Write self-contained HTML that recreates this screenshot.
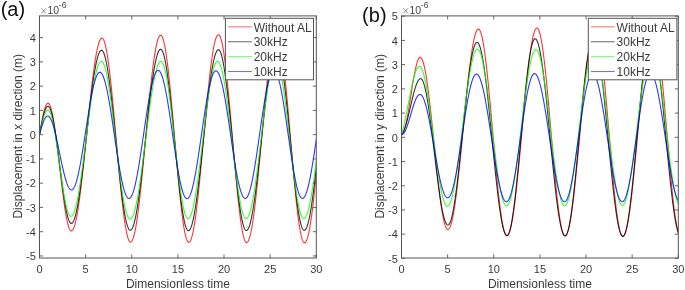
<!DOCTYPE html>
<html><head><meta charset="utf-8"><style>
html,body{margin:0;padding:0;background:#fff;}
svg{display:block;will-change:transform;}
text{font-family:"Liberation Sans",sans-serif;fill:#3a3a3a;}
.tk{font-size:11px;}
.lb{font-size:12px;}
.lg{font-size:12px;}
.ex{font-size:10.5px;fill:#444;}
.ex1{font-size:12.5px;fill:#555;}
.sup{font-size:8.5px;fill:#444;}
.pl{font-size:20px;fill:#111;}
</style></head><body>
<svg width="685" height="290" viewBox="0 0 685 290">
<rect width="685" height="290" fill="#fff"/>
<clipPath id="ca"><rect x="39.50" y="15.90" width="276.80" height="242.10"/></clipPath>
<g clip-path="url(#ca)" fill="none" stroke-width="1.1" stroke-opacity="0.8" stroke-linejoin="round">
<path d="M39.50,134.65 L39.96,131.96 L40.42,129.29 L40.88,126.66 L41.35,124.09 L41.81,121.59 L42.27,119.19 L42.73,116.91 L43.19,114.75 L43.65,112.73 L44.11,110.88 L44.57,109.20 L45.04,107.70 L45.50,106.40 L45.96,105.31 L46.42,104.43 L46.88,103.77 L47.34,103.34 L47.80,103.13 L48.27,103.16 L48.73,103.43 L49.19,103.94 L49.65,104.70 L50.11,105.70 L50.57,106.94 L51.03,108.40 L51.49,110.10 L51.96,112.01 L52.42,114.13 L52.88,116.46 L53.34,118.99 L53.80,121.70 L54.26,124.58 L54.72,127.63 L55.19,130.82 L55.65,134.16 L56.11,137.63 L56.57,141.21 L57.03,144.88 L57.49,148.65 L57.95,152.48 L58.41,156.37 L58.88,160.30 L59.34,164.26 L59.80,168.23 L60.26,172.19 L60.72,176.13 L61.18,180.04 L61.64,183.90 L62.11,187.69 L62.57,191.41 L63.03,195.03 L63.49,198.54 L63.95,201.93 L64.41,205.19 L64.87,208.30 L65.33,211.25 L65.80,214.03 L66.26,216.62 L66.72,219.03 L67.18,221.24 L67.64,223.24 L68.10,225.02 L68.56,226.58 L69.03,227.91 L69.49,229.00 L69.95,229.86 L70.41,230.47 L70.87,230.84 L71.33,230.96 L71.79,230.85 L72.25,230.53 L72.72,229.99 L73.18,229.24 L73.64,228.28 L74.10,227.10 L74.56,225.72 L75.02,224.14 L75.48,222.35 L75.95,220.37 L76.41,218.19 L76.87,215.83 L77.33,213.29 L77.79,210.57 L78.25,207.68 L78.71,204.63 L79.17,201.41 L79.64,198.05 L80.10,194.55 L80.56,190.92 L81.02,187.15 L81.48,183.27 L81.94,179.28 L82.40,175.19 L82.87,171.01 L83.33,166.75 L83.79,162.41 L84.25,158.02 L84.71,153.57 L85.17,149.07 L85.63,144.55 L86.09,140.00 L86.56,135.44 L87.02,130.88 L87.48,126.33 L87.94,121.79 L88.40,117.28 L88.86,112.82 L89.32,108.40 L89.79,104.04 L90.25,99.74 L90.71,95.53 L91.17,91.40 L91.63,87.37 L92.09,83.44 L92.55,79.63 L93.01,75.94 L93.48,72.39 L93.94,68.97 L94.40,65.70 L94.86,62.58 L95.32,59.62 L95.78,56.84 L96.24,54.22 L96.71,51.79 L97.17,49.54 L97.63,47.48 L98.09,45.61 L98.55,43.95 L99.01,42.48 L99.47,41.23 L99.93,40.18 L100.40,39.34 L100.86,38.72 L101.32,38.31 L101.78,38.11 L102.24,38.14 L102.70,38.43 L103.16,38.98 L103.63,39.79 L104.09,40.85 L104.55,42.17 L105.01,43.75 L105.47,45.57 L105.93,47.63 L106.39,49.93 L106.85,52.46 L107.32,55.22 L107.78,58.19 L108.24,61.37 L108.70,64.76 L109.16,68.34 L109.62,72.10 L110.08,76.04 L110.55,80.15 L111.01,84.40 L111.47,88.80 L111.93,93.34 L112.39,97.99 L112.85,102.75 L113.31,107.60 L113.77,112.54 L114.24,117.55 L114.70,122.62 L115.16,127.73 L115.62,132.88 L116.08,138.04 L116.54,143.21 L117.00,148.37 L117.47,153.51 L117.93,158.61 L118.39,163.67 L118.85,168.67 L119.31,173.59 L119.77,178.43 L120.23,183.17 L120.69,187.80 L121.16,192.30 L121.62,196.68 L122.08,200.90 L122.54,204.97 L123.00,208.88 L123.46,212.61 L123.92,216.15 L124.39,219.50 L124.85,222.64 L125.31,225.57 L125.77,228.28 L126.23,230.77 L126.69,233.02 L127.15,235.03 L127.61,236.80 L128.08,238.33 L128.54,239.60 L129.00,240.61 L129.46,241.37 L129.92,241.87 L130.38,242.10 L130.84,242.08 L131.31,241.81 L131.77,241.31 L132.23,240.57 L132.69,239.59 L133.15,238.38 L133.61,236.93 L134.07,235.26 L134.53,233.36 L135.00,231.25 L135.46,228.92 L135.92,226.38 L136.38,223.63 L136.84,220.69 L137.30,217.56 L137.76,214.24 L138.23,210.75 L138.69,207.09 L139.15,203.28 L139.61,199.31 L140.07,195.20 L140.53,190.96 L140.99,186.60 L141.45,182.13 L141.92,177.56 L142.38,172.89 L142.84,168.15 L143.30,163.34 L143.76,158.47 L144.22,153.56 L144.68,148.61 L145.15,143.64 L145.61,138.65 L146.07,133.67 L146.53,128.70 L146.99,123.75 L147.45,118.83 L147.91,113.97 L148.37,109.15 L148.84,104.41 L149.30,99.75 L149.76,95.18 L150.22,90.70 L150.68,86.34 L151.14,82.10 L151.60,78.00 L152.07,74.03 L152.53,70.21 L152.99,66.55 L153.45,63.06 L153.91,59.75 L154.37,56.62 L154.83,53.67 L155.29,50.93 L155.76,48.39 L156.22,46.06 L156.68,43.94 L157.14,42.04 L157.60,40.37 L158.06,38.93 L158.52,37.72 L158.99,36.74 L159.45,35.99 L159.91,35.49 L160.37,35.23 L160.83,35.21 L161.29,35.45 L161.75,35.97 L162.21,36.77 L162.68,37.83 L163.14,39.16 L163.60,40.76 L164.06,42.62 L164.52,44.73 L164.98,47.09 L165.44,49.69 L165.91,52.53 L166.37,55.60 L166.83,58.89 L167.29,62.39 L167.75,66.09 L168.21,69.99 L168.67,74.07 L169.13,78.32 L169.60,82.73 L170.06,87.29 L170.52,91.98 L170.98,96.80 L171.44,101.73 L171.90,106.76 L172.36,111.88 L172.83,117.06 L173.29,122.31 L173.75,127.59 L174.21,132.91 L174.67,138.24 L175.13,143.57 L175.59,148.89 L176.05,154.19 L176.52,159.44 L176.98,164.64 L177.44,169.77 L177.90,174.82 L178.36,179.77 L178.82,184.61 L179.28,189.33 L179.75,193.92 L180.21,198.36 L180.67,202.64 L181.13,206.76 L181.59,210.69 L182.05,214.43 L182.51,217.98 L182.97,221.31 L183.44,224.42 L183.90,227.31 L184.36,229.96 L184.82,232.37 L185.28,234.53 L185.74,236.44 L186.20,238.09 L186.67,239.47 L187.13,240.59 L187.59,241.44 L188.05,242.01 L188.51,242.31 L188.97,242.34 L189.43,242.12 L189.89,241.65 L190.36,240.93 L190.82,239.97 L191.28,238.76 L191.74,237.31 L192.20,235.63 L192.66,233.72 L193.12,231.57 L193.59,229.21 L194.05,226.62 L194.51,223.83 L194.97,220.83 L195.43,217.63 L195.89,214.25 L196.35,210.68 L196.81,206.95 L197.28,203.04 L197.74,198.99 L198.20,194.78 L198.66,190.45 L199.12,185.99 L199.58,181.41 L200.04,176.74 L200.51,171.97 L200.97,167.12 L201.43,162.20 L201.89,157.23 L202.35,152.21 L202.81,147.16 L203.27,142.09 L203.73,137.01 L204.20,131.93 L204.66,126.87 L205.12,121.84 L205.58,116.84 L206.04,111.90 L206.50,107.03 L206.96,102.22 L207.43,97.51 L207.89,92.89 L208.35,88.39 L208.81,84.00 L209.27,79.74 L209.73,75.62 L210.19,71.66 L210.65,67.85 L211.12,64.22 L211.58,60.76 L212.04,57.49 L212.50,54.41 L212.96,51.53 L213.42,48.86 L213.88,46.41 L214.35,44.18 L214.81,42.17 L215.27,40.39 L215.73,38.85 L216.19,37.55 L216.65,36.49 L217.11,35.67 L217.57,35.10 L218.04,34.78 L218.50,34.70 L218.96,34.90 L219.42,35.36 L219.88,36.10 L220.34,37.11 L220.80,38.38 L221.27,39.92 L221.73,41.72 L222.19,43.77 L222.65,46.08 L223.11,48.63 L223.57,51.41 L224.03,54.43 L224.49,57.66 L224.96,61.11 L225.42,64.77 L225.88,68.62 L226.34,72.65 L226.80,76.86 L227.26,81.23 L227.72,85.75 L228.19,90.42 L228.65,95.20 L229.11,100.11 L229.57,105.11 L230.03,110.20 L230.49,115.37 L230.95,120.60 L231.41,125.88 L231.88,131.19 L232.34,136.52 L232.80,141.85 L233.26,147.18 L233.72,152.49 L234.18,157.75 L234.64,162.97 L235.11,168.13 L235.57,173.20 L236.03,178.19 L236.49,183.07 L236.95,187.83 L237.41,192.47 L237.87,196.96 L238.33,201.30 L238.80,205.47 L239.26,209.47 L239.72,213.28 L240.18,216.90 L240.64,220.31 L241.10,223.50 L241.56,226.47 L242.03,229.21 L242.49,231.71 L242.95,233.96 L243.41,235.97 L243.87,237.72 L244.33,239.20 L244.79,240.42 L245.25,241.38 L245.72,242.06 L246.18,242.47 L246.64,242.61 L247.10,242.49 L247.56,242.12 L248.02,241.52 L248.48,240.67 L248.95,239.59 L249.41,238.27 L249.87,236.71 L250.33,234.93 L250.79,232.93 L251.25,230.70 L251.71,228.26 L252.17,225.61 L252.64,222.75 L253.10,219.70 L253.56,216.46 L254.02,213.04 L254.48,209.45 L254.94,205.69 L255.40,201.77 L255.87,197.71 L256.33,193.50 L256.79,189.17 L257.25,184.72 L257.71,180.17 L258.17,175.52 L258.63,170.78 L259.09,165.96 L259.56,161.08 L260.02,156.15 L260.48,151.18 L260.94,146.18 L261.40,141.16 L261.86,136.14 L262.32,131.12 L262.79,126.12 L263.25,121.15 L263.71,116.22 L264.17,111.34 L264.63,106.53 L265.09,101.79 L265.55,97.14 L266.01,92.58 L266.48,88.13 L266.94,83.80 L267.40,79.60 L267.86,75.54 L268.32,71.62 L268.78,67.86 L269.24,64.26 L269.71,60.84 L270.17,57.60 L270.63,54.55 L271.09,51.70 L271.55,49.05 L272.01,46.61 L272.47,44.38 L272.93,42.37 L273.40,40.59 L273.86,39.04 L274.32,37.72 L274.78,36.64 L275.24,35.79 L275.70,35.18 L276.16,34.82 L276.63,34.70 L277.09,34.84 L277.55,35.26 L278.01,35.96 L278.47,36.94 L278.93,38.20 L279.39,39.73 L279.85,41.52 L280.32,43.58 L280.78,45.90 L281.24,48.46 L281.70,51.27 L282.16,54.32 L282.62,57.60 L283.08,61.09 L283.55,64.80 L284.01,68.71 L284.47,72.80 L284.93,77.08 L285.39,81.52 L285.85,86.11 L286.31,90.85 L286.77,95.72 L287.24,100.70 L287.70,105.79 L288.16,110.97 L288.62,116.22 L289.08,121.53 L289.54,126.89 L290.00,132.28 L290.47,137.69 L290.93,143.10 L291.39,148.50 L291.85,153.88 L292.31,159.21 L292.77,164.49 L293.23,169.70 L293.69,174.82 L294.16,179.85 L294.62,184.77 L295.08,189.56 L295.54,194.21 L296.00,198.72 L296.46,203.06 L296.92,207.23 L297.39,211.21 L297.85,215.00 L298.31,218.58 L298.77,221.94 L299.23,225.08 L299.69,227.99 L300.15,230.66 L300.61,233.07 L301.08,235.24 L301.54,237.14 L302.00,238.77 L302.46,240.14 L302.92,241.23 L303.38,242.04 L303.84,242.57 L304.31,242.83 L304.77,242.81 L305.23,242.54 L305.69,242.04 L306.15,241.31 L306.61,240.33 L307.07,239.13 L307.53,237.69 L308.00,236.03 L308.46,234.15 L308.92,232.04 L309.38,229.73 L309.84,227.20 L310.30,224.47 L310.76,221.54 L311.23,218.43 L311.69,215.13 L312.15,211.66 L312.61,208.02 L313.07,204.22 L313.53,200.27 L313.99,196.18 L314.45,191.96 L314.92,187.62 L315.38,183.16 L315.84,178.60 L316.30,173.95" stroke="#ff0000"/>
<path d="M39.50,134.65 L39.96,132.23 L40.42,129.83 L40.88,127.46 L41.35,125.14 L41.81,122.90 L42.27,120.74 L42.73,118.68 L43.19,116.74 L43.65,114.92 L44.11,113.26 L44.57,111.74 L45.04,110.40 L45.50,109.23 L45.96,108.24 L46.42,107.45 L46.88,106.86 L47.34,106.47 L47.80,106.28 L48.27,106.31 L48.73,106.55 L49.19,107.03 L49.65,107.72 L50.11,108.64 L50.57,109.77 L51.03,111.12 L51.49,112.67 L51.96,114.42 L52.42,116.37 L52.88,118.50 L53.34,120.81 L53.80,123.30 L54.26,125.94 L54.72,128.73 L55.19,131.66 L55.65,134.72 L56.11,137.90 L56.57,141.18 L57.03,144.55 L57.49,148.00 L57.95,151.51 L58.41,155.08 L58.88,158.68 L59.34,162.31 L59.80,165.94 L60.26,169.58 L60.72,173.19 L61.18,176.77 L61.64,180.31 L62.11,183.79 L62.57,187.19 L63.03,190.51 L63.49,193.73 L63.95,196.83 L64.41,199.82 L64.87,202.67 L65.33,205.37 L65.80,207.92 L66.26,210.30 L66.72,212.51 L67.18,214.53 L67.64,216.36 L68.10,217.99 L68.56,219.42 L69.03,220.64 L69.49,221.64 L69.95,222.43 L70.41,222.99 L70.87,223.33 L71.33,223.44 L71.79,223.34 L72.25,223.04 L72.72,222.54 L73.18,221.85 L73.64,220.96 L74.10,219.87 L74.56,218.59 L75.02,217.12 L75.48,215.47 L75.95,213.64 L76.41,211.63 L76.87,209.45 L77.33,207.10 L77.79,204.58 L78.25,201.91 L78.71,199.10 L79.17,196.13 L79.64,193.03 L80.10,189.80 L80.56,186.45 L81.02,182.99 L81.48,179.41 L81.94,175.74 L82.40,171.98 L82.87,168.14 L83.33,164.23 L83.79,160.25 L84.25,156.22 L84.71,152.15 L85.17,148.03 L85.63,143.90 L86.09,139.75 L86.56,135.59 L87.02,131.43 L87.48,127.28 L87.94,123.16 L88.40,119.07 L88.86,115.02 L89.32,111.02 L89.79,107.08 L90.25,103.21 L90.71,99.42 L91.17,95.71 L91.63,92.10 L92.09,88.59 L92.55,85.19 L93.01,81.91 L93.48,78.76 L93.94,75.74 L94.40,72.86 L94.86,70.13 L95.32,67.56 L95.78,65.14 L96.24,62.89 L96.71,60.81 L97.17,58.91 L97.63,57.18 L98.09,55.64 L98.55,54.29 L99.01,53.12 L99.47,52.15 L99.93,51.38 L100.40,50.80 L100.86,50.42 L101.32,50.24 L101.78,50.27 L102.24,50.52 L102.70,51.00 L103.16,51.70 L103.63,52.63 L104.09,53.78 L104.55,55.15 L105.01,56.73 L105.47,58.53 L105.93,60.53 L106.39,62.74 L106.85,65.14 L107.32,67.74 L107.78,70.51 L108.24,73.46 L108.70,76.59 L109.16,79.87 L109.62,83.31 L110.08,86.89 L110.55,90.60 L111.01,94.44 L111.47,98.40 L111.93,102.47 L112.39,106.63 L112.85,110.87 L113.31,115.19 L113.77,119.57 L114.24,124.01 L114.70,128.48 L115.16,132.99 L115.62,137.51 L116.08,142.04 L116.54,146.57 L117.00,151.08 L117.47,155.56 L117.93,160.01 L118.39,164.40 L118.85,168.73 L119.31,172.99 L119.77,177.17 L120.23,181.25 L120.69,185.23 L121.16,189.10 L121.62,192.84 L122.08,196.45 L122.54,199.91 L123.00,203.23 L123.46,206.38 L123.92,209.37 L124.39,212.18 L124.85,214.81 L125.31,217.25 L125.77,219.50 L126.23,221.54 L126.69,223.38 L127.15,225.01 L127.61,226.42 L128.08,227.62 L128.54,228.59 L129.00,229.34 L129.46,229.87 L129.92,230.16 L130.38,230.23 L130.84,230.09 L131.31,229.74 L131.77,229.18 L132.23,228.42 L132.69,227.46 L133.15,226.30 L133.61,224.94 L134.07,223.39 L134.53,221.64 L135.00,219.71 L135.46,217.60 L135.92,215.31 L136.38,212.85 L136.84,210.22 L137.30,207.43 L137.76,204.49 L138.23,201.40 L138.69,198.17 L139.15,194.80 L139.61,191.31 L140.07,187.71 L140.53,183.99 L140.99,180.17 L141.45,176.26 L141.92,172.27 L142.38,168.20 L142.84,164.07 L143.30,159.88 L143.76,155.65 L144.22,151.38 L144.68,147.08 L145.15,142.77 L145.61,138.45 L146.07,134.13 L146.53,129.83 L146.99,125.55 L147.45,121.30 L147.91,117.09 L148.37,112.93 L148.84,108.84 L149.30,104.82 L149.76,100.87 L150.22,97.02 L150.68,93.26 L151.14,89.61 L151.60,86.07 L152.07,82.65 L152.53,79.37 L152.99,76.22 L153.45,73.22 L153.91,70.36 L154.37,67.67 L154.83,65.14 L155.29,62.78 L155.76,60.60 L156.22,58.59 L156.68,56.78 L157.14,55.15 L157.60,53.71 L158.06,52.47 L158.52,51.43 L158.99,50.59 L159.45,49.95 L159.91,49.52 L160.37,49.29 L160.83,49.27 L161.29,49.50 L161.75,49.97 L162.21,50.68 L162.68,51.64 L163.14,52.83 L163.60,54.27 L164.06,55.94 L164.52,57.83 L164.98,59.95 L165.44,62.29 L165.91,64.84 L166.37,67.60 L166.83,70.55 L167.29,73.69 L167.75,77.01 L168.21,80.51 L168.67,84.16 L169.13,87.97 L169.60,91.92 L170.06,95.99 L170.52,100.19 L170.98,104.50 L171.44,108.91 L171.90,113.39 L172.36,117.96 L172.83,122.58 L173.29,127.25 L173.75,131.95 L174.21,136.67 L174.67,141.41 L175.13,146.14 L175.59,150.85 L176.05,155.54 L176.52,160.18 L176.98,164.76 L177.44,169.28 L177.90,173.72 L178.36,178.07 L178.82,182.31 L179.28,186.44 L179.75,190.44 L180.21,194.31 L180.67,198.03 L181.13,201.59 L181.59,204.98 L182.05,208.19 L182.51,211.22 L182.97,214.05 L183.44,216.69 L183.90,219.11 L184.36,221.32 L184.82,223.31 L185.28,225.07 L185.74,226.60 L186.20,227.89 L186.67,228.94 L187.13,229.75 L187.59,230.32 L188.05,230.64 L188.51,230.72 L188.97,230.57 L189.43,230.21 L189.89,229.64 L190.36,228.86 L190.82,227.88 L191.28,226.69 L191.74,225.30 L192.20,223.71 L192.66,221.92 L193.12,219.94 L193.59,217.78 L194.05,215.44 L194.51,212.92 L194.97,210.23 L195.43,207.38 L195.89,204.37 L196.35,201.21 L196.81,197.91 L197.28,194.47 L197.74,190.91 L198.20,187.23 L198.66,183.44 L199.12,179.55 L199.58,175.56 L200.04,171.50 L200.51,167.36 L200.97,163.16 L201.43,158.90 L201.89,154.60 L202.35,150.27 L202.81,145.91 L203.27,141.54 L203.73,137.17 L204.20,132.80 L204.66,128.45 L205.12,124.13 L205.58,119.85 L206.04,115.61 L206.50,111.44 L206.96,107.33 L207.43,103.29 L207.89,99.34 L208.35,95.49 L208.81,91.74 L209.27,88.11 L209.73,84.60 L210.19,81.21 L210.65,77.97 L211.12,74.87 L211.58,71.92 L212.04,69.13 L212.50,66.51 L212.96,64.06 L213.42,61.79 L213.88,59.70 L214.35,57.80 L214.81,56.09 L215.27,54.58 L215.73,53.27 L216.19,52.16 L216.65,51.26 L217.11,50.57 L217.57,50.08 L218.04,49.81 L218.50,49.74 L218.96,49.91 L219.42,50.33 L219.88,50.98 L220.34,51.87 L220.80,53.00 L221.27,54.37 L221.73,55.96 L222.19,57.78 L222.65,59.82 L223.11,62.08 L223.57,64.55 L224.03,67.22 L224.49,70.09 L224.96,73.14 L225.42,76.37 L225.88,79.78 L226.34,83.35 L226.80,87.07 L227.26,90.93 L227.72,94.92 L228.19,99.04 L228.65,103.27 L229.11,107.59 L229.57,112.00 L230.03,116.49 L230.49,121.04 L230.95,125.65 L231.41,130.29 L231.88,134.96 L232.34,139.64 L232.80,144.32 L233.26,149.00 L233.72,153.64 L234.18,158.26 L234.64,162.82 L235.11,167.32 L235.57,171.75 L236.03,176.09 L236.49,180.34 L236.95,184.48 L237.41,188.50 L237.87,192.39 L238.33,196.14 L238.80,199.74 L239.26,203.18 L239.72,206.44 L240.18,209.54 L240.64,212.44 L241.10,215.15 L241.56,217.66 L242.03,219.96 L242.49,222.04 L242.95,223.91 L243.41,225.55 L243.87,226.96 L244.33,228.14 L244.79,229.08 L245.25,229.78 L245.72,230.24 L246.18,230.46 L246.64,230.44 L247.10,230.21 L247.56,229.77 L248.02,229.12 L248.48,228.27 L248.95,227.21 L249.41,225.95 L249.87,224.49 L250.33,222.83 L250.79,220.98 L251.25,218.94 L251.71,216.72 L252.17,214.33 L252.64,211.76 L253.10,209.02 L253.56,206.13 L254.02,203.08 L254.48,199.88 L254.94,196.55 L255.40,193.08 L255.87,189.50 L256.33,185.79 L256.79,181.99 L257.25,178.08 L257.71,174.09 L258.17,170.01 L258.63,165.87 L259.09,161.67 L259.56,157.42 L260.02,153.13 L260.48,148.80 L260.94,144.46 L261.40,140.11 L261.86,135.76 L262.32,131.41 L262.79,127.09 L263.25,122.80 L263.71,118.55 L264.17,114.35 L264.63,110.20 L265.09,106.13 L265.55,102.14 L266.01,98.23 L266.48,94.42 L266.94,90.72 L267.40,87.13 L267.86,83.67 L268.32,80.33 L268.78,77.14 L269.24,74.09 L269.71,71.19 L270.17,68.46 L270.63,65.89 L271.09,63.49 L271.55,61.27 L272.01,59.24 L272.47,57.39 L272.93,55.73 L273.40,54.27 L273.86,53.01 L274.32,51.95 L274.78,51.10 L275.24,50.45 L275.70,50.01 L276.16,49.78 L276.63,49.76 L277.09,49.98 L277.55,50.45 L278.01,51.16 L278.47,52.11 L278.93,53.30 L279.39,54.73 L279.85,56.40 L280.32,58.28 L280.78,60.40 L281.24,62.73 L281.70,65.27 L282.16,68.01 L282.62,70.95 L283.08,74.08 L283.55,77.39 L284.01,80.86 L284.47,84.51 L284.93,88.30 L285.39,92.23 L285.85,96.29 L286.31,100.47 L286.77,104.76 L287.24,109.15 L287.70,113.62 L288.16,118.17 L288.62,122.77 L289.08,127.42 L289.54,132.10 L290.00,136.81 L290.47,141.52 L290.93,146.23 L291.39,150.93 L291.85,155.59 L292.31,160.22 L292.77,164.79 L293.23,169.29 L293.69,173.71 L294.16,178.04 L294.62,182.27 L295.08,186.38 L295.54,190.36 L296.00,194.21 L296.46,197.91 L296.92,201.46 L297.39,204.84 L297.85,208.04 L298.31,211.05 L298.77,213.88 L299.23,216.50 L299.69,218.91 L300.15,221.11 L300.61,223.09 L301.08,224.85 L301.54,226.37 L302.00,227.66 L302.46,228.71 L302.92,229.51 L303.38,230.08 L303.84,230.40 L304.31,230.47 L304.77,230.33 L305.23,229.97 L305.69,229.40 L306.15,228.63 L306.61,227.66 L307.07,226.47 L307.53,225.09 L308.00,223.51 L308.46,221.74 L308.92,219.78 L309.38,217.63 L309.84,215.31 L310.30,212.81 L310.76,210.14 L311.23,207.30 L311.69,204.32 L312.15,201.18 L312.61,197.90 L313.07,194.49 L313.53,190.95 L313.99,187.29 L314.45,183.52 L314.92,179.65 L315.38,175.69 L315.84,171.65 L316.30,167.54" stroke="#000000"/>
<path d="M39.50,134.65 L39.96,132.51 L40.42,130.40 L40.88,128.31 L41.35,126.27 L41.81,124.29 L42.27,122.40 L42.73,120.60 L43.19,118.90 L43.65,117.32 L44.11,115.88 L44.57,114.58 L45.04,113.43 L45.50,112.44 L45.96,111.63 L46.42,110.98 L46.88,110.52 L47.34,110.24 L47.80,110.15 L48.27,110.25 L48.73,110.57 L49.19,111.09 L49.65,111.82 L50.11,112.75 L50.57,113.88 L51.03,115.20 L51.49,116.72 L51.96,118.42 L52.42,120.29 L52.88,122.34 L53.34,124.55 L53.80,126.91 L54.26,129.41 L54.72,132.05 L55.19,134.81 L55.65,137.68 L56.11,140.66 L56.57,143.72 L57.03,146.86 L57.49,150.06 L57.95,153.32 L58.41,156.62 L58.88,159.94 L59.34,163.28 L59.80,166.61 L60.26,169.94 L60.72,173.23 L61.18,176.49 L61.64,179.69 L62.11,182.84 L62.57,185.90 L63.03,188.87 L63.49,191.74 L63.95,194.51 L64.41,197.14 L64.87,199.65 L65.33,202.01 L65.80,204.21 L66.26,206.26 L66.72,208.14 L67.18,209.83 L67.64,211.35 L68.10,212.68 L68.56,213.81 L69.03,214.74 L69.49,215.47 L69.95,215.99 L70.41,216.30 L70.87,216.41 L71.33,216.32 L71.79,216.06 L72.25,215.62 L72.72,215.01 L73.18,214.22 L73.64,213.27 L74.10,212.14 L74.56,210.85 L75.02,209.40 L75.48,207.79 L75.95,206.02 L76.41,204.10 L76.87,202.03 L77.33,199.82 L77.79,197.47 L78.25,194.99 L78.71,192.38 L79.17,189.65 L79.64,186.81 L80.10,183.86 L80.56,180.80 L81.02,177.65 L81.48,174.41 L81.94,171.09 L82.40,167.70 L82.87,164.25 L83.33,160.73 L83.79,157.17 L84.25,153.56 L84.71,149.93 L85.17,146.26 L85.63,142.58 L86.09,138.90 L86.56,135.21 L87.02,131.53 L87.48,127.86 L87.94,124.23 L88.40,120.62 L88.86,117.06 L89.32,113.54 L89.79,110.09 L90.25,106.70 L90.71,103.38 L91.17,100.14 L91.63,96.99 L92.09,93.93 L92.55,90.98 L93.01,88.14 L93.48,85.41 L93.94,82.80 L94.40,80.32 L94.86,77.97 L95.32,75.76 L95.78,73.69 L96.24,71.77 L96.71,70.00 L97.17,68.39 L97.63,66.94 L98.09,65.65 L98.55,64.52 L99.01,63.57 L99.47,62.79 L99.93,62.17 L100.40,61.74 L100.86,61.47 L101.32,61.38 L101.78,61.48 L102.24,61.78 L102.70,62.28 L103.16,62.98 L103.63,63.87 L104.09,64.95 L104.55,66.23 L105.01,67.69 L105.47,69.34 L105.93,71.17 L106.39,73.17 L106.85,75.34 L107.32,77.68 L107.78,80.17 L108.24,82.82 L108.70,85.61 L109.16,88.54 L109.62,91.60 L110.08,94.79 L110.55,98.09 L111.01,101.50 L111.47,105.00 L111.93,108.60 L112.39,112.27 L112.85,116.02 L113.31,119.82 L113.77,123.68 L114.24,127.58 L114.70,131.51 L115.16,135.47 L115.62,139.44 L116.08,143.40 L116.54,147.37 L117.00,151.31 L117.47,155.22 L117.93,159.10 L118.39,162.93 L118.85,166.70 L119.31,170.40 L119.77,174.03 L120.23,177.57 L120.69,181.02 L121.16,184.36 L121.62,187.60 L122.08,190.71 L122.54,193.69 L123.00,196.54 L123.46,199.25 L123.92,201.80 L124.39,204.20 L124.85,206.44 L125.31,208.51 L125.77,210.41 L126.23,212.13 L126.69,213.67 L127.15,215.02 L127.61,216.18 L128.08,217.15 L128.54,217.92 L129.00,218.50 L129.46,218.88 L129.92,219.06 L130.38,219.04 L130.84,218.85 L131.31,218.49 L131.77,217.95 L132.23,217.24 L132.69,216.36 L133.15,215.31 L133.61,214.09 L134.07,212.71 L134.53,211.17 L135.00,209.48 L135.46,207.63 L135.92,205.63 L136.38,203.49 L136.84,201.21 L137.30,198.79 L137.76,196.24 L138.23,193.57 L138.69,190.78 L139.15,187.88 L139.61,184.88 L140.07,181.77 L140.53,178.58 L140.99,175.30 L141.45,171.94 L141.92,168.51 L142.38,165.02 L142.84,161.47 L143.30,157.88 L143.76,154.25 L144.22,150.58 L144.68,146.90 L145.15,143.20 L145.61,139.49 L146.07,135.78 L146.53,132.09 L146.99,128.41 L147.45,124.76 L147.91,121.14 L148.37,117.56 L148.84,114.04 L149.30,110.57 L149.76,107.17 L150.22,103.84 L150.68,100.59 L151.14,97.43 L151.60,94.37 L152.07,91.40 L152.53,88.55 L152.99,85.80 L153.45,83.18 L153.91,80.69 L154.37,78.32 L154.83,76.10 L155.29,74.01 L155.76,72.07 L156.22,70.28 L156.68,68.65 L157.14,67.18 L157.60,65.86 L158.06,64.71 L158.52,63.73 L158.99,62.92 L159.45,62.28 L159.91,61.81 L160.37,61.51 L160.83,61.39 L161.29,61.46 L161.75,61.75 L162.21,62.26 L162.68,63.00 L163.14,63.96 L163.60,65.13 L164.06,66.52 L164.52,68.11 L164.98,69.91 L165.44,71.92 L165.91,74.11 L166.37,76.50 L166.83,79.06 L167.29,81.80 L167.75,84.70 L168.21,87.77 L168.67,90.98 L169.13,94.33 L169.60,97.81 L170.06,101.42 L170.52,105.13 L170.98,108.94 L171.44,112.84 L171.90,116.82 L172.36,120.86 L172.83,124.96 L173.29,129.10 L173.75,133.28 L174.21,137.47 L174.67,141.67 L175.13,145.86 L175.59,150.04 L176.05,154.19 L176.52,158.30 L176.98,162.35 L177.44,166.34 L177.90,170.26 L178.36,174.09 L178.82,177.82 L179.28,181.45 L179.75,184.96 L180.21,188.34 L180.67,191.58 L181.13,194.67 L181.59,197.61 L182.05,200.38 L182.51,202.98 L182.97,205.40 L183.44,207.64 L183.90,209.68 L184.36,211.52 L184.82,213.16 L185.28,214.59 L185.74,215.80 L186.20,216.80 L186.67,217.58 L187.13,218.14 L187.59,218.48 L188.05,218.59 L188.51,218.49 L188.97,218.21 L189.43,217.74 L189.89,217.08 L190.36,216.23 L190.82,215.21 L191.28,213.99 L191.74,212.61 L192.20,211.04 L192.66,209.31 L193.12,207.41 L193.59,205.34 L194.05,203.12 L194.51,200.75 L194.97,198.23 L195.43,195.57 L195.89,192.77 L196.35,189.85 L196.81,186.81 L197.28,183.66 L197.74,180.40 L198.20,177.04 L198.66,173.59 L199.12,170.07 L199.58,166.47 L200.04,162.80 L200.51,159.09 L200.97,155.32 L201.43,151.52 L201.89,147.69 L202.35,143.84 L202.81,139.99 L203.27,136.13 L203.73,132.28 L204.20,128.45 L204.66,124.65 L205.12,120.89 L205.58,117.17 L206.04,113.51 L206.50,109.91 L206.96,106.38 L207.43,102.93 L207.89,99.58 L208.35,96.32 L208.81,93.16 L209.27,90.12 L209.73,87.20 L210.19,84.41 L210.65,81.75 L211.12,79.23 L211.58,76.85 L212.04,74.63 L212.50,72.57 L212.96,70.67 L213.42,68.93 L213.88,67.37 L214.35,65.98 L214.81,64.77 L215.27,63.74 L215.73,62.90 L216.19,62.24 L216.65,61.76 L217.11,61.48 L217.57,61.38 L218.04,61.49 L218.50,61.79 L218.96,62.29 L219.42,62.99 L219.88,63.89 L220.34,64.99 L220.80,66.28 L221.27,67.75 L221.73,69.42 L222.19,71.26 L222.65,73.28 L223.11,75.47 L223.57,77.83 L224.03,80.35 L224.49,83.02 L224.96,85.83 L225.42,88.79 L225.88,91.87 L226.34,95.08 L226.80,98.41 L227.26,101.84 L227.72,105.37 L228.19,108.99 L228.65,112.69 L229.11,116.46 L229.57,120.29 L230.03,124.16 L230.49,128.08 L230.95,132.04 L231.41,136.01 L231.88,139.99 L232.34,143.97 L232.80,147.94 L233.26,151.89 L233.72,155.81 L234.18,159.69 L234.64,163.52 L235.11,167.29 L235.57,170.98 L236.03,174.60 L236.49,178.13 L236.95,181.57 L237.41,184.89 L237.87,188.10 L238.33,191.19 L238.80,194.14 L239.26,196.96 L239.72,199.63 L240.18,202.14 L240.64,204.50 L241.10,206.69 L241.56,208.71 L242.03,210.56 L242.49,212.22 L242.95,213.70 L243.41,214.98 L243.87,216.08 L244.33,216.98 L244.79,217.68 L245.25,218.19 L245.72,218.49 L246.18,218.59 L246.64,218.49 L247.10,218.21 L247.56,217.74 L248.02,217.08 L248.48,216.23 L248.95,215.21 L249.41,213.99 L249.87,212.61 L250.33,211.04 L250.79,209.31 L251.25,207.41 L251.71,205.34 L252.17,203.12 L252.64,200.75 L253.10,198.23 L253.56,195.57 L254.02,192.77 L254.48,189.85 L254.94,186.81 L255.40,183.66 L255.87,180.40 L256.33,177.04 L256.79,173.59 L257.25,170.07 L257.71,166.47 L258.17,162.80 L258.63,159.09 L259.09,155.32 L259.56,151.52 L260.02,147.69 L260.48,143.84 L260.94,139.99 L261.40,136.13 L261.86,132.28 L262.32,128.45 L262.79,124.65 L263.25,120.89 L263.71,117.17 L264.17,113.51 L264.63,109.91 L265.09,106.38 L265.55,102.93 L266.01,99.58 L266.48,96.32 L266.94,93.16 L267.40,90.12 L267.86,87.20 L268.32,84.41 L268.78,81.75 L269.24,79.23 L269.71,76.85 L270.17,74.63 L270.63,72.57 L271.09,70.67 L271.55,68.93 L272.01,67.37 L272.47,65.98 L272.93,64.77 L273.40,63.74 L273.86,62.90 L274.32,62.24 L274.78,61.76 L275.24,61.48 L275.70,61.38 L276.16,61.49 L276.63,61.80 L277.09,62.32 L277.55,63.05 L278.01,63.98 L278.47,65.11 L278.93,66.44 L279.39,67.96 L279.85,69.68 L280.32,71.58 L280.78,73.66 L281.24,75.92 L281.70,78.35 L282.16,80.95 L282.62,83.70 L283.08,86.59 L283.55,89.64 L284.01,92.81 L284.47,96.11 L284.93,99.52 L285.39,103.05 L285.85,106.67 L286.31,110.38 L286.77,114.16 L287.24,118.02 L287.70,121.93 L288.16,125.90 L288.62,129.89 L289.08,133.92 L289.54,137.96 L290.00,142.01 L290.47,146.05 L290.93,150.08 L291.39,154.08 L291.85,158.04 L292.31,161.96 L292.77,165.81 L293.23,169.60 L293.69,173.31 L294.16,176.93 L294.62,180.45 L295.08,183.87 L295.54,187.17 L296.00,190.34 L296.46,193.38 L296.92,196.28 L297.39,199.03 L297.85,201.62 L298.31,204.05 L298.77,206.31 L299.23,208.39 L299.69,210.30 L300.15,212.01 L300.61,213.54 L301.08,214.87 L301.54,216.00 L302.00,216.93 L302.46,217.65 L302.92,218.17 L303.38,218.49 L303.84,218.59 L304.31,218.50 L304.77,218.22 L305.23,217.76 L305.69,217.13 L306.15,216.31 L306.61,215.31 L307.07,214.13 L307.53,212.79 L308.00,211.27 L308.46,209.59 L308.92,207.74 L309.38,205.74 L309.84,203.58 L310.30,201.27 L310.76,198.82 L311.23,196.23 L311.69,193.52 L312.15,190.67 L312.61,187.71 L313.07,184.64 L313.53,181.46 L313.99,178.19 L314.45,174.82 L314.92,171.38 L315.38,167.86 L315.84,164.28 L316.30,160.64" stroke="#00ff00"/>
<path d="M39.50,134.65 L39.96,132.99 L40.42,131.33 L40.88,129.71 L41.35,128.12 L41.81,126.59 L42.27,125.12 L42.73,123.72 L43.19,122.42 L43.65,121.21 L44.11,120.10 L44.57,119.12 L45.04,118.25 L45.50,117.52 L45.96,116.93 L46.42,116.47 L46.88,116.16 L47.34,116.00 L47.80,115.98 L48.27,116.10 L48.73,116.36 L49.19,116.75 L49.65,117.28 L50.11,117.94 L50.57,118.72 L51.03,119.63 L51.49,120.67 L51.96,121.82 L52.42,123.09 L52.88,124.47 L53.34,125.95 L53.80,127.53 L54.26,129.20 L54.72,130.97 L55.19,132.81 L55.65,134.73 L56.11,136.71 L56.57,138.76 L57.03,140.85 L57.49,142.99 L57.95,145.17 L58.41,147.38 L58.88,149.61 L59.34,151.84 L59.80,154.09 L60.26,156.33 L60.72,158.55 L61.18,160.76 L61.64,162.94 L62.11,165.08 L62.57,167.18 L63.03,169.22 L63.49,171.20 L63.95,173.12 L64.41,174.97 L64.87,176.73 L65.33,178.40 L65.80,179.98 L66.26,181.47 L66.72,182.84 L67.18,184.11 L67.64,185.26 L68.10,186.30 L68.56,187.21 L69.03,188.00 L69.49,188.65 L69.95,189.18 L70.41,189.57 L70.87,189.83 L71.33,189.95 L71.79,189.94 L72.25,189.77 L72.72,189.44 L73.18,188.97 L73.64,188.34 L74.10,187.56 L74.56,186.64 L75.02,185.57 L75.48,184.36 L75.95,183.01 L76.41,181.52 L76.87,179.90 L77.33,178.15 L77.79,176.28 L78.25,174.30 L78.71,172.20 L79.17,169.99 L79.64,167.68 L80.10,165.27 L80.56,162.78 L81.02,160.20 L81.48,157.55 L81.94,154.82 L82.40,152.04 L82.87,149.20 L83.33,146.31 L83.79,143.38 L84.25,140.42 L84.71,137.44 L85.17,134.44 L85.63,131.43 L86.09,128.42 L86.56,125.42 L87.02,122.43 L87.48,119.47 L87.94,116.54 L88.40,113.64 L88.86,110.79 L89.32,107.99 L89.79,105.26 L90.25,102.59 L90.71,100.00 L91.17,97.48 L91.63,95.06 L92.09,92.73 L92.55,90.50 L93.01,88.38 L93.48,86.37 L93.94,84.47 L94.40,82.70 L94.86,81.06 L95.32,79.54 L95.78,78.17 L96.24,76.93 L96.71,75.83 L97.17,74.87 L97.63,74.07 L98.09,73.41 L98.55,72.90 L99.01,72.55 L99.47,72.35 L99.93,72.30 L100.40,72.41 L100.86,72.68 L101.32,73.10 L101.78,73.67 L102.24,74.40 L102.70,75.27 L103.16,76.30 L103.63,77.47 L104.09,78.78 L104.55,80.24 L105.01,81.83 L105.47,83.55 L105.93,85.40 L106.39,87.37 L106.85,89.47 L107.32,91.67 L107.78,93.99 L108.24,96.40 L108.70,98.91 L109.16,101.52 L109.62,104.20 L110.08,106.97 L110.55,109.80 L111.01,112.70 L111.47,115.65 L111.93,118.65 L112.39,121.69 L112.85,124.77 L113.31,127.87 L113.77,130.99 L114.24,134.12 L114.70,137.26 L115.16,140.39 L115.62,143.51 L116.08,146.61 L116.54,149.68 L117.00,152.71 L117.47,155.70 L117.93,158.64 L118.39,161.53 L118.85,164.35 L119.31,167.10 L119.77,169.77 L120.23,172.35 L120.69,174.84 L121.16,177.24 L121.62,179.53 L122.08,181.72 L122.54,183.79 L123.00,185.74 L123.46,187.56 L123.92,189.26 L124.39,190.82 L124.85,192.25 L125.31,193.53 L125.77,194.67 L126.23,195.67 L126.69,196.52 L127.15,197.21 L127.61,197.75 L128.08,198.14 L128.54,198.38 L129.00,198.45 L129.46,198.37 L129.92,198.14 L130.38,197.74 L130.84,197.19 L131.31,196.49 L131.77,195.63 L132.23,194.62 L132.69,193.46 L133.15,192.15 L133.61,190.70 L134.07,189.12 L134.53,187.39 L135.00,185.54 L135.46,183.56 L135.92,181.46 L136.38,179.24 L136.84,176.91 L137.30,174.48 L137.76,171.95 L138.23,169.33 L138.69,166.61 L139.15,163.82 L139.61,160.96 L140.07,158.03 L140.53,155.04 L140.99,152.01 L141.45,148.92 L141.92,145.81 L142.38,142.66 L142.84,139.50 L143.30,136.32 L143.76,133.13 L144.22,129.95 L144.68,126.78 L145.15,123.63 L145.61,120.51 L146.07,117.42 L146.53,114.37 L146.99,111.38 L147.45,108.43 L147.91,105.56 L148.37,102.75 L148.84,100.03 L149.30,97.38 L149.76,94.83 L150.22,92.38 L150.68,90.03 L151.14,87.79 L151.60,85.66 L152.07,83.66 L152.53,81.78 L152.99,80.03 L153.45,78.42 L153.91,76.94 L154.37,75.61 L154.83,74.42 L155.29,73.38 L155.76,72.49 L156.22,71.75 L156.68,71.17 L157.14,70.74 L157.60,70.47 L158.06,70.36 L158.52,70.41 L158.99,70.62 L159.45,70.99 L159.91,71.52 L160.37,72.21 L160.83,73.06 L161.29,74.06 L161.75,75.21 L162.21,76.52 L162.68,77.97 L163.14,79.56 L163.60,81.29 L164.06,83.15 L164.52,85.14 L164.98,87.26 L165.44,89.50 L165.91,91.85 L166.37,94.31 L166.83,96.86 L167.29,99.52 L167.75,102.26 L168.21,105.08 L168.67,107.98 L169.13,110.94 L169.60,113.97 L170.06,117.04 L170.52,120.16 L170.98,123.32 L171.44,126.50 L171.90,129.70 L172.36,132.92 L172.83,136.14 L173.29,139.35 L173.75,142.56 L174.21,145.74 L174.67,148.90 L175.13,152.02 L175.59,155.09 L176.05,158.11 L176.52,161.08 L176.98,163.98 L177.44,166.80 L177.90,169.54 L178.36,172.19 L178.82,174.75 L179.28,177.21 L179.75,179.56 L180.21,181.80 L180.67,183.91 L181.13,185.91 L181.59,187.77 L182.05,189.50 L182.51,191.09 L182.97,192.54 L183.44,193.84 L183.90,195.00 L184.36,196.00 L184.82,196.84 L185.28,197.53 L185.74,198.06 L186.20,198.43 L186.67,198.64 L187.13,198.69 L187.59,198.58 L188.05,198.31 L188.51,197.87 L188.97,197.28 L189.43,196.53 L189.89,195.63 L190.36,194.57 L190.82,193.36 L191.28,192.00 L191.74,190.50 L192.20,188.86 L192.66,187.08 L193.12,185.18 L193.59,183.14 L194.05,180.98 L194.51,178.71 L194.97,176.32 L195.43,173.83 L195.89,171.25 L196.35,168.57 L196.81,165.80 L197.28,162.96 L197.74,160.05 L198.20,157.07 L198.66,154.04 L199.12,150.95 L199.58,147.83 L200.04,144.68 L200.51,141.50 L200.97,138.30 L201.43,135.09 L201.89,131.88 L202.35,128.69 L202.81,125.50 L203.27,122.34 L203.73,119.21 L204.20,116.12 L204.66,113.08 L205.12,110.09 L205.58,107.16 L206.04,104.30 L206.50,101.52 L206.96,98.82 L207.43,96.22 L207.89,93.71 L208.35,91.30 L208.81,89.01 L209.27,86.82 L209.73,84.76 L210.19,82.83 L210.65,81.03 L211.12,79.36 L211.58,77.83 L212.04,76.44 L212.50,75.20 L212.96,74.12 L213.42,73.18 L213.88,72.40 L214.35,71.77 L214.81,71.31 L215.27,71.00 L215.73,70.86 L216.19,70.87 L216.65,71.05 L217.11,71.37 L217.57,71.85 L218.04,72.49 L218.50,73.27 L218.96,74.21 L219.42,75.29 L219.88,76.52 L220.34,77.89 L220.80,79.39 L221.27,81.04 L221.73,82.81 L222.19,84.71 L222.65,86.73 L223.11,88.87 L223.57,91.12 L224.03,93.48 L224.49,95.93 L224.96,98.49 L225.42,101.12 L225.88,103.85 L226.34,106.64 L226.80,109.51 L227.26,112.43 L227.72,115.41 L228.19,118.44 L228.65,121.51 L229.11,124.61 L229.57,127.73 L230.03,130.87 L230.49,134.02 L230.95,137.17 L231.41,140.32 L231.88,143.45 L232.34,146.56 L232.80,149.64 L233.26,152.68 L233.72,155.68 L234.18,158.63 L234.64,161.52 L235.11,164.34 L235.57,167.10 L236.03,169.77 L236.49,172.36 L236.95,174.85 L237.41,177.25 L237.87,179.54 L238.33,181.73 L238.80,183.80 L239.26,185.74 L239.72,187.57 L240.18,189.26 L240.64,190.83 L241.10,192.25 L241.56,193.54 L242.03,194.68 L242.49,195.67 L242.95,196.52 L243.41,197.21 L243.87,197.75 L244.33,198.14 L244.79,198.38 L245.25,198.45 L245.72,198.37 L246.18,198.13 L246.64,197.72 L247.10,197.15 L247.56,196.41 L248.02,195.52 L248.48,194.47 L248.95,193.27 L249.41,191.92 L249.87,190.42 L250.33,188.78 L250.79,187.00 L251.25,185.08 L251.71,183.03 L252.17,180.86 L252.64,178.57 L253.10,176.17 L253.56,173.66 L254.02,171.05 L254.48,168.34 L254.94,165.55 L255.40,162.68 L255.87,159.74 L256.33,156.73 L256.79,153.67 L257.25,150.55 L257.71,147.40 L258.17,144.21 L258.63,141.00 L259.09,137.77 L259.56,134.53 L260.02,131.29 L260.48,128.06 L260.94,124.85 L261.40,121.66 L261.86,118.51 L262.32,115.39 L262.79,112.33 L263.25,109.32 L263.71,106.38 L264.17,103.51 L264.63,100.71 L265.09,98.01 L265.55,95.40 L266.01,92.89 L266.48,90.49 L266.94,88.20 L267.40,86.03 L267.86,83.98 L268.32,82.06 L268.78,80.28 L269.24,78.64 L269.71,77.14 L270.17,75.78 L270.63,74.58 L271.09,73.54 L271.55,72.64 L272.01,71.91 L272.47,71.34 L272.93,70.93 L273.40,70.69 L273.86,70.60 L274.32,70.69 L274.78,70.93 L275.24,71.34 L275.70,71.91 L276.16,72.64 L276.63,73.54 L277.09,74.58 L277.55,75.78 L278.01,77.14 L278.47,78.64 L278.93,80.28 L279.39,82.06 L279.85,83.98 L280.32,86.03 L280.78,88.20 L281.24,90.49 L281.70,92.89 L282.16,95.40 L282.62,98.01 L283.08,100.71 L283.55,103.51 L284.01,106.38 L284.47,109.32 L284.93,112.33 L285.39,115.39 L285.85,118.51 L286.31,121.66 L286.77,124.85 L287.24,128.06 L287.70,131.29 L288.16,134.53 L288.62,137.77 L289.08,141.00 L289.54,144.21 L290.00,147.40 L290.47,150.55 L290.93,153.67 L291.39,156.73 L291.85,159.74 L292.31,162.68 L292.77,165.55 L293.23,168.34 L293.69,171.05 L294.16,173.66 L294.62,176.17 L295.08,178.57 L295.54,180.86 L296.00,183.03 L296.46,185.08 L296.92,187.00 L297.39,188.78 L297.85,190.42 L298.31,191.92 L298.77,193.27 L299.23,194.47 L299.69,195.52 L300.15,196.41 L300.61,197.15 L301.08,197.72 L301.54,198.13 L302.00,198.37 L302.46,198.45 L302.92,198.37 L303.38,198.14 L303.84,197.74 L304.31,197.19 L304.77,196.48 L305.23,195.61 L305.69,194.60 L306.15,193.43 L306.61,192.12 L307.07,190.67 L307.53,189.08 L308.00,187.35 L308.46,185.49 L308.92,183.50 L309.38,181.39 L309.84,179.16 L310.30,176.83 L310.76,174.39 L311.23,171.84 L311.69,169.21 L312.15,166.49 L312.61,163.69 L313.07,160.82 L313.53,157.88 L313.99,154.89 L314.45,151.84 L314.92,148.75 L315.38,145.63 L315.84,142.48 L316.30,139.31" stroke="#0000ff"/>
</g>
<path d="M39.50,258.00v-3.5 M39.50,15.90v3.5 M85.63,258.00v-3.5 M85.63,15.90v3.5 M131.77,258.00v-3.5 M131.77,15.90v3.5 M177.90,258.00v-3.5 M177.90,15.90v3.5 M224.03,258.00v-3.5 M224.03,15.90v3.5 M270.17,258.00v-3.5 M270.17,15.90v3.5 M316.30,258.00v-3.5 M316.30,15.90v3.5 M39.50,37.61h3.5 M316.30,37.61h-3.5 M39.50,61.87h3.5 M316.30,61.87h-3.5 M39.50,86.13h3.5 M316.30,86.13h-3.5 M39.50,110.39h3.5 M316.30,110.39h-3.5 M39.50,134.65h3.5 M316.30,134.65h-3.5 M39.50,158.91h3.5 M316.30,158.91h-3.5 M39.50,183.17h3.5 M316.30,183.17h-3.5 M39.50,207.43h3.5 M316.30,207.43h-3.5 M39.50,231.69h3.5 M316.30,231.69h-3.5 M39.50,255.95h3.5 M316.30,255.95h-3.5" stroke="#555555" stroke-width="0.9" fill="none"/>
<rect x="39.50" y="15.90" width="276.80" height="242.10" fill="none" stroke="#555555" stroke-width="1.0"/>
<text x="39.50" y="272.80" text-anchor="middle" class="tk">0</text>
<text x="85.63" y="272.80" text-anchor="middle" class="tk">5</text>
<text x="131.77" y="272.80" text-anchor="middle" class="tk">10</text>
<text x="177.90" y="272.80" text-anchor="middle" class="tk">15</text>
<text x="224.03" y="272.80" text-anchor="middle" class="tk">20</text>
<text x="270.17" y="272.80" text-anchor="middle" class="tk">25</text>
<text x="316.30" y="272.80" text-anchor="middle" class="tk">30</text>
<text x="35.80" y="41.81" text-anchor="end" class="tk">4</text>
<text x="35.80" y="66.07" text-anchor="end" class="tk">3</text>
<text x="35.80" y="90.33" text-anchor="end" class="tk">2</text>
<text x="35.80" y="114.59" text-anchor="end" class="tk">1</text>
<text x="35.80" y="138.85" text-anchor="end" class="tk">0</text>
<text x="35.80" y="163.11" text-anchor="end" class="tk">-1</text>
<text x="35.80" y="187.37" text-anchor="end" class="tk">-2</text>
<text x="35.80" y="211.63" text-anchor="end" class="tk">-3</text>
<text x="35.80" y="235.89" text-anchor="end" class="tk">-4</text>
<text x="35.80" y="260.15" text-anchor="end" class="tk">-5</text>
<text x="177.90" y="287.7" text-anchor="middle" class="lb">Dimensionless time</text>
<text transform="translate(22.10,136.25) rotate(-90)" text-anchor="middle" class="lb">Displacement in x direction (m)</text>
<path d="M41.30,8.3L46.00,13.3M46.00,8.3L41.30,13.3" stroke="#6a6a6a" stroke-width="0.75" fill="none"/>
<text x="47.50" y="13.5" class="ex">10</text>
<text x="58.80" y="7.8" class="sup">-6</text>
<text x="0.70" y="16.10" class="pl">(a)</text>
<rect x="225.40" y="18.30" width="88.10" height="61.50" fill="#fff" stroke="#555555" stroke-width="1"/>
<path d="M228.00,26.85h23.80" stroke="#ff0000" stroke-width="1.0" stroke-opacity="0.6"/>
<text x="253.70" y="31.55" class="lg">Without AL</text>
<path d="M228.00,41.75h23.80" stroke="#000000" stroke-width="1.0" stroke-opacity="0.6"/>
<text x="253.70" y="46.45" class="lg">30kHz</text>
<path d="M228.00,56.65h23.80" stroke="#00ff00" stroke-width="1.0" stroke-opacity="0.6"/>
<text x="253.70" y="61.35" class="lg">20kHz</text>
<path d="M228.00,71.55h23.80" stroke="#0000ff" stroke-width="1.0" stroke-opacity="0.6"/>
<text x="253.70" y="76.25" class="lg">10kHz</text>
<clipPath id="cb"><rect x="401.50" y="15.90" width="276.80" height="242.10"/></clipPath>
<g clip-path="url(#cb)" fill="none" stroke-width="1.1" stroke-opacity="0.8" stroke-linejoin="round">
<path d="M401.50,134.39 L401.96,134.28 L402.42,133.93 L402.88,133.36 L403.35,132.56 L403.81,131.55 L404.27,130.32 L404.73,128.88 L405.19,127.25 L405.65,125.43 L406.11,123.43 L406.57,121.27 L407.04,118.95 L407.50,116.50 L407.96,113.92 L408.42,111.24 L408.88,108.46 L409.34,105.61 L409.80,102.70 L410.27,99.75 L410.73,96.78 L411.19,93.80 L411.65,90.83 L412.11,87.90 L412.57,85.01 L413.03,82.19 L413.49,79.44 L413.96,76.80 L414.42,74.27 L414.88,71.87 L415.34,69.62 L415.80,67.52 L416.26,65.59 L416.72,63.84 L417.19,62.29 L417.65,60.93 L418.11,59.79 L418.57,58.86 L419.03,58.15 L419.49,57.67 L419.95,57.42 L420.41,57.39 L420.88,57.61 L421.34,58.05 L421.80,58.73 L422.26,59.65 L422.72,60.79 L423.18,62.16 L423.64,63.76 L424.11,65.57 L424.57,67.59 L425.03,69.83 L425.49,72.26 L425.95,74.89 L426.41,77.71 L426.87,80.71 L427.33,83.88 L427.80,87.22 L428.26,90.70 L428.72,94.34 L429.18,98.10 L429.64,102.00 L430.10,106.00 L430.56,110.11 L431.03,114.31 L431.49,118.59 L431.95,122.94 L432.41,127.34 L432.87,131.79 L433.33,136.27 L433.79,140.77 L434.25,145.28 L434.72,149.78 L435.18,154.27 L435.64,158.72 L436.10,163.14 L436.56,167.50 L437.02,171.79 L437.48,176.01 L437.95,180.14 L438.41,184.16 L438.87,188.08 L439.33,191.87 L439.79,195.53 L440.25,199.05 L440.71,202.42 L441.17,205.62 L441.64,208.65 L442.10,211.51 L442.56,214.18 L443.02,216.65 L443.48,218.93 L443.94,221.00 L444.40,222.85 L444.87,224.49 L445.33,225.90 L445.79,227.09 L446.25,228.05 L446.71,228.78 L447.17,229.28 L447.63,229.54 L448.09,229.56 L448.56,229.36 L449.02,228.93 L449.48,228.28 L449.94,227.40 L450.40,226.30 L450.86,224.99 L451.32,223.46 L451.79,221.72 L452.25,219.77 L452.71,217.61 L453.17,215.26 L453.63,212.71 L454.09,209.98 L454.55,207.06 L455.01,203.97 L455.48,200.71 L455.94,197.29 L456.40,193.72 L456.86,190.00 L457.32,186.15 L457.78,182.16 L458.24,178.06 L458.71,173.85 L459.17,169.54 L459.63,165.14 L460.09,160.65 L460.55,156.10 L461.01,151.49 L461.47,146.82 L461.93,142.12 L462.40,137.39 L462.86,132.64 L463.32,127.88 L463.78,123.13 L464.24,118.38 L464.70,113.67 L465.16,108.99 L465.63,104.35 L466.09,99.77 L466.55,95.26 L467.01,90.83 L467.47,86.48 L467.93,82.22 L468.39,78.08 L468.85,74.05 L469.32,70.14 L469.78,66.37 L470.24,62.73 L470.70,59.25 L471.16,55.93 L471.62,52.77 L472.08,49.78 L472.55,46.97 L473.01,44.35 L473.47,41.92 L473.93,39.69 L474.39,37.65 L474.85,35.83 L475.31,34.21 L475.77,32.81 L476.24,31.63 L476.70,30.66 L477.16,29.92 L477.62,29.40 L478.08,29.11 L478.54,29.04 L479.00,29.23 L479.47,29.68 L479.93,30.40 L480.39,31.38 L480.85,32.62 L481.31,34.12 L481.77,35.88 L482.23,37.88 L482.69,40.13 L483.16,42.61 L483.62,45.33 L484.08,48.27 L484.54,51.43 L485.00,54.80 L485.46,58.37 L485.92,62.13 L486.39,66.07 L486.85,70.18 L487.31,74.46 L487.77,78.88 L488.23,83.44 L488.69,88.12 L489.15,92.93 L489.61,97.83 L490.08,102.82 L490.54,107.89 L491.00,113.02 L491.46,118.20 L491.92,123.42 L492.38,128.66 L492.84,133.91 L493.31,139.16 L493.77,144.39 L494.23,149.58 L494.69,154.74 L495.15,159.83 L495.61,164.85 L496.07,169.79 L496.53,174.64 L497.00,179.37 L497.46,183.98 L497.92,188.46 L498.38,192.80 L498.84,196.97 L499.30,200.99 L499.76,204.82 L500.23,208.46 L500.69,211.91 L501.15,215.16 L501.61,218.19 L502.07,221.00 L502.53,223.57 L502.99,225.92 L503.45,228.02 L503.92,229.87 L504.38,231.48 L504.84,232.82 L505.30,233.91 L505.76,234.73 L506.22,235.29 L506.68,235.59 L507.15,235.61 L507.61,235.40 L508.07,234.94 L508.53,234.24 L508.99,233.30 L509.45,232.12 L509.91,230.71 L510.37,229.07 L510.84,227.20 L511.30,225.11 L511.76,222.80 L512.22,220.27 L512.68,217.55 L513.14,214.62 L513.60,211.50 L514.07,208.19 L514.53,204.70 L514.99,201.05 L515.45,197.23 L515.91,193.26 L516.37,189.14 L516.83,184.90 L517.29,180.52 L517.76,176.04 L518.22,171.45 L518.68,166.77 L519.14,162.01 L519.60,157.17 L520.06,152.28 L520.52,147.34 L520.99,142.37 L521.45,137.37 L521.91,132.35 L522.37,127.34 L522.83,122.33 L523.29,117.35 L523.75,112.40 L524.21,107.50 L524.68,102.66 L525.14,97.88 L525.60,93.18 L526.06,88.57 L526.52,84.06 L526.98,79.67 L527.44,75.40 L527.91,71.26 L528.37,67.26 L528.83,63.41 L529.29,59.72 L529.75,56.20 L530.21,52.85 L530.67,49.69 L531.13,46.72 L531.60,43.96 L532.06,41.39 L532.52,39.04 L532.98,36.90 L533.44,34.99 L533.90,33.30 L534.36,31.85 L534.83,30.62 L535.29,29.63 L535.75,28.89 L536.21,28.38 L536.67,28.11 L537.13,28.09 L537.59,28.34 L538.05,28.86 L538.52,29.66 L538.98,30.72 L539.44,32.06 L539.90,33.66 L540.36,35.52 L540.82,37.64 L541.28,40.01 L541.75,42.62 L542.21,45.47 L542.67,48.55 L543.13,51.84 L543.59,55.36 L544.05,59.07 L544.51,62.98 L544.97,67.07 L545.44,71.33 L545.90,75.76 L546.36,80.33 L546.82,85.04 L547.28,89.87 L547.74,94.82 L548.20,99.86 L548.67,104.99 L549.13,110.19 L549.59,115.45 L550.05,120.76 L550.51,126.09 L550.97,131.44 L551.43,136.79 L551.89,142.12 L552.36,147.43 L552.82,152.70 L553.28,157.92 L553.74,163.06 L554.20,168.12 L554.66,173.09 L555.12,177.95 L555.59,182.68 L556.05,187.28 L556.51,191.74 L556.97,196.03 L557.43,200.16 L557.89,204.11 L558.35,207.86 L558.81,211.41 L559.28,214.76 L559.74,217.88 L560.20,220.77 L560.66,223.43 L561.12,225.85 L561.58,228.02 L562.04,229.93 L562.51,231.58 L562.97,232.97 L563.43,234.09 L563.89,234.95 L564.35,235.52 L564.81,235.83 L565.27,235.86 L565.73,235.64 L566.20,235.18 L566.66,234.48 L567.12,233.54 L567.58,232.36 L568.04,230.95 L568.50,229.31 L568.96,227.44 L569.43,225.35 L569.89,223.04 L570.35,220.52 L570.81,217.79 L571.27,214.86 L571.73,211.74 L572.19,208.43 L572.65,204.94 L573.12,201.29 L573.58,197.47 L574.04,193.50 L574.50,189.39 L574.96,185.14 L575.42,180.77 L575.88,176.28 L576.35,171.69 L576.81,167.01 L577.27,162.25 L577.73,157.42 L578.19,152.52 L578.65,147.58 L579.11,142.61 L579.57,137.61 L580.04,132.59 L580.50,127.58 L580.96,122.58 L581.42,117.59 L581.88,112.65 L582.34,107.74 L582.80,102.90 L583.27,98.12 L583.73,93.42 L584.19,88.81 L584.65,84.31 L585.11,79.91 L585.57,75.64 L586.03,71.50 L586.49,67.50 L586.96,63.65 L587.42,59.96 L587.88,56.44 L588.34,53.09 L588.80,49.93 L589.26,46.97 L589.72,44.20 L590.19,41.63 L590.65,39.28 L591.11,37.15 L591.57,35.23 L592.03,33.55 L592.49,32.09 L592.95,30.86 L593.41,29.88 L593.88,29.13 L594.34,28.62 L594.80,28.35 L595.26,28.33 L595.72,28.59 L596.18,29.12 L596.64,29.94 L597.11,31.04 L597.57,32.41 L598.03,34.06 L598.49,35.97 L598.95,38.15 L599.41,40.58 L599.87,43.26 L600.33,46.18 L600.80,49.34 L601.26,52.72 L601.72,56.33 L602.18,60.13 L602.64,64.14 L603.10,68.33 L603.56,72.69 L604.03,77.22 L604.49,81.90 L604.95,86.71 L605.41,91.65 L605.87,96.70 L606.33,101.85 L606.79,107.08 L607.25,112.37 L607.72,117.73 L608.18,123.12 L608.64,128.54 L609.10,133.96 L609.56,139.39 L610.02,144.79 L610.48,150.16 L610.95,155.48 L611.41,160.74 L611.87,165.92 L612.33,171.01 L612.79,176.00 L613.25,180.86 L613.71,185.60 L614.17,190.18 L614.64,194.62 L615.10,198.88 L615.56,202.96 L616.02,206.84 L616.48,210.53 L616.94,214.00 L617.40,217.25 L617.87,220.27 L618.33,223.05 L618.79,225.58 L619.25,227.86 L619.71,229.88 L620.17,231.63 L620.63,233.11 L621.09,234.32 L621.56,235.25 L622.02,235.90 L622.48,236.27 L622.94,236.35 L623.40,236.19 L623.86,235.78 L624.32,235.13 L624.79,234.24 L625.25,233.11 L625.71,231.75 L626.17,230.16 L626.63,228.35 L627.09,226.31 L627.55,224.05 L628.01,221.58 L628.48,218.90 L628.94,216.02 L629.40,212.95 L629.86,209.69 L630.32,206.25 L630.78,202.63 L631.24,198.86 L631.71,194.93 L632.17,190.86 L632.63,186.65 L633.09,182.31 L633.55,177.86 L634.01,173.30 L634.47,168.65 L634.93,163.91 L635.40,159.10 L635.86,154.22 L636.32,149.30 L636.78,144.34 L637.24,139.35 L637.70,134.34 L638.16,129.33 L638.63,124.32 L639.09,119.34 L639.55,114.38 L640.01,109.47 L640.47,104.61 L640.93,99.81 L641.39,95.09 L641.85,90.45 L642.32,85.91 L642.78,81.48 L643.24,77.17 L643.70,72.99 L644.16,68.94 L644.62,65.04 L645.08,61.30 L645.55,57.72 L646.01,54.32 L646.47,51.09 L646.93,48.06 L647.39,45.22 L647.85,42.58 L648.31,40.15 L648.77,37.94 L649.24,35.94 L649.70,34.17 L650.16,32.63 L650.62,31.31 L651.08,30.24 L651.54,29.39 L652.00,28.79 L652.47,28.43 L652.93,28.31 L653.39,28.45 L653.85,28.87 L654.31,29.57 L654.77,30.55 L655.23,31.81 L655.69,33.33 L656.16,35.13 L656.62,37.19 L657.08,39.50 L657.54,42.07 L658.00,44.88 L658.46,47.92 L658.92,51.20 L659.39,54.69 L659.85,58.40 L660.31,62.30 L660.77,66.39 L661.23,70.67 L661.69,75.11 L662.15,79.70 L662.61,84.43 L663.08,89.30 L663.54,94.28 L664.00,99.37 L664.46,104.54 L664.92,109.79 L665.38,115.10 L665.84,120.46 L666.31,125.85 L666.77,131.25 L667.23,136.66 L667.69,142.06 L668.15,147.43 L668.61,152.76 L669.07,158.04 L669.53,163.24 L670.00,168.37 L670.46,173.39 L670.92,178.30 L671.38,183.09 L671.84,187.74 L672.30,192.25 L672.76,196.59 L673.23,200.75 L673.69,204.73 L674.15,208.52 L674.61,212.10 L675.07,215.46 L675.53,218.60 L675.99,221.51 L676.45,224.17 L676.92,226.59 L677.38,228.75 L677.84,230.65 L678.30,232.28" stroke="#ff0000"/>
<path d="M401.50,134.39 L401.96,133.91 L402.42,133.29 L402.88,132.55 L403.35,131.69 L403.81,130.71 L404.27,129.61 L404.73,128.40 L405.19,127.08 L405.65,125.66 L406.11,124.15 L406.57,122.56 L407.04,120.88 L407.50,119.13 L407.96,117.31 L408.42,115.45 L408.88,113.54 L409.34,111.59 L409.80,109.61 L410.27,107.62 L410.73,105.63 L411.19,103.64 L411.65,101.66 L412.11,99.71 L412.57,97.79 L413.03,95.92 L413.49,94.10 L413.96,92.34 L414.42,90.66 L414.88,89.06 L415.34,87.54 L415.80,86.13 L416.26,84.82 L416.72,83.62 L417.19,82.55 L417.65,81.59 L418.11,80.77 L418.57,80.07 L419.03,79.52 L419.49,79.10 L419.95,78.83 L420.41,78.70 L420.88,78.72 L421.34,78.95 L421.80,79.38 L422.26,80.02 L422.72,80.86 L423.18,81.89 L423.64,83.13 L424.11,84.56 L424.57,86.17 L425.03,87.98 L425.49,89.96 L425.95,92.11 L426.41,94.44 L426.87,96.92 L427.33,99.57 L427.80,102.35 L428.26,105.28 L428.72,108.34 L429.18,111.52 L429.64,114.81 L430.10,118.21 L430.56,121.70 L431.03,125.28 L431.49,128.93 L431.95,132.65 L432.41,136.42 L432.87,140.24 L433.33,144.08 L433.79,147.95 L434.25,151.83 L434.72,155.71 L435.18,159.58 L435.64,163.43 L436.10,167.24 L436.56,171.01 L437.02,174.73 L437.48,178.38 L437.95,181.96 L438.41,185.45 L438.87,188.85 L439.33,192.15 L439.79,195.33 L440.25,198.38 L440.71,201.31 L441.17,204.10 L441.64,206.74 L442.10,209.23 L442.56,211.55 L443.02,213.71 L443.48,215.69 L443.94,217.49 L444.40,219.11 L444.87,220.54 L445.33,221.77 L445.79,222.81 L446.25,223.65 L446.71,224.28 L447.17,224.71 L447.63,224.94 L448.09,224.96 L448.56,224.76 L449.02,224.33 L449.48,223.68 L449.94,222.80 L450.40,221.71 L450.86,220.39 L451.32,218.87 L451.79,217.13 L452.25,215.19 L452.71,213.04 L453.17,210.70 L453.63,208.17 L454.09,205.46 L454.55,202.57 L455.01,199.50 L455.48,196.28 L455.94,192.90 L456.40,189.37 L456.86,185.71 L457.32,181.92 L457.78,178.01 L458.24,173.98 L458.71,169.86 L459.17,165.65 L459.63,161.36 L460.09,157.01 L460.55,152.59 L461.01,148.13 L461.47,143.63 L461.93,139.11 L462.40,134.57 L462.86,130.04 L463.32,125.51 L463.78,121.00 L464.24,116.52 L464.70,112.09 L465.16,107.70 L465.63,103.39 L466.09,99.14 L466.55,94.99 L467.01,90.92 L467.47,86.97 L467.93,83.13 L468.39,79.41 L468.85,75.83 L469.32,72.39 L469.78,69.10 L470.24,65.97 L470.70,63.01 L471.16,60.23 L471.62,57.62 L472.08,55.20 L472.55,52.98 L473.01,50.96 L473.47,49.14 L473.93,47.52 L474.39,46.13 L474.85,44.94 L475.31,43.98 L475.77,43.24 L476.24,42.72 L476.70,42.43 L477.16,42.36 L477.62,42.52 L478.08,42.91 L478.54,43.52 L479.00,44.35 L479.47,45.41 L479.93,46.69 L480.39,48.19 L480.85,49.89 L481.31,51.81 L481.77,53.93 L482.23,56.26 L482.69,58.77 L483.16,61.48 L483.62,64.37 L484.08,67.43 L484.54,70.66 L485.00,74.05 L485.46,77.60 L485.92,81.29 L486.39,85.11 L486.85,89.06 L487.31,93.13 L487.77,97.31 L488.23,101.58 L488.69,105.94 L489.15,110.38 L489.61,114.89 L490.08,119.45 L490.54,124.06 L491.00,128.71 L491.46,133.38 L491.92,138.06 L492.38,142.74 L492.84,147.42 L493.31,152.07 L493.77,156.70 L494.23,161.28 L494.69,165.81 L495.15,170.28 L495.61,174.67 L496.07,178.99 L496.53,183.20 L497.00,187.31 L497.46,191.31 L497.92,195.19 L498.38,198.93 L498.84,202.54 L499.30,205.99 L499.76,209.29 L500.23,212.42 L500.69,215.38 L501.15,218.16 L501.61,220.75 L502.07,223.15 L502.53,225.35 L502.99,227.35 L503.45,229.15 L503.92,230.73 L504.38,232.09 L504.84,233.24 L505.30,234.17 L505.76,234.87 L506.22,235.34 L506.68,235.59 L507.15,235.61 L507.61,235.38 L508.07,234.88 L508.53,234.13 L508.99,233.12 L509.45,231.85 L509.91,230.33 L510.37,228.57 L510.84,226.56 L511.30,224.32 L511.76,221.85 L512.22,219.15 L512.68,216.23 L513.14,213.10 L513.60,209.78 L514.07,206.26 L514.53,202.55 L514.99,198.68 L515.45,194.64 L515.91,190.45 L516.37,186.11 L516.83,181.65 L517.29,177.07 L517.76,172.38 L518.22,167.60 L518.68,162.74 L519.14,157.81 L519.60,152.83 L520.06,147.81 L520.52,142.75 L520.99,137.69 L521.45,132.62 L521.91,127.56 L522.37,122.53 L522.83,117.54 L523.29,112.60 L523.75,107.72 L524.21,102.92 L524.68,98.22 L525.14,93.61 L525.60,89.13 L526.06,84.77 L526.52,80.55 L526.98,76.48 L527.44,72.57 L527.91,68.83 L528.37,65.27 L528.83,61.90 L529.29,58.74 L529.75,55.78 L530.21,53.03 L530.67,50.51 L531.13,48.22 L531.60,46.17 L532.06,44.36 L532.52,42.79 L532.98,41.47 L533.44,40.41 L533.90,39.61 L534.36,39.06 L534.83,38.77 L535.29,38.74 L535.75,38.95 L536.21,39.39 L536.67,40.05 L537.13,40.95 L537.59,42.06 L538.05,43.40 L538.52,44.96 L538.98,46.74 L539.44,48.72 L539.90,50.92 L540.36,53.31 L540.82,55.90 L541.28,58.69 L541.75,61.65 L542.21,64.79 L542.67,68.10 L543.13,71.58 L543.59,75.20 L544.05,78.97 L544.51,82.88 L544.97,86.92 L545.44,91.07 L545.90,95.33 L546.36,99.69 L546.82,104.13 L547.28,108.66 L547.74,113.25 L548.20,117.89 L548.67,122.59 L549.13,127.31 L549.59,132.06 L550.05,136.82 L550.51,141.59 L550.97,146.34 L551.43,151.07 L551.89,155.77 L552.36,160.43 L552.82,165.03 L553.28,169.57 L553.74,174.03 L554.20,178.41 L554.66,182.69 L555.12,186.86 L555.59,190.92 L556.05,194.86 L556.51,198.65 L556.97,202.31 L557.43,205.81 L557.89,209.16 L558.35,212.33 L558.81,215.34 L559.28,218.15 L559.74,220.78 L560.20,223.22 L560.66,225.45 L561.12,227.48 L561.58,229.30 L562.04,230.90 L562.51,232.29 L562.97,233.45 L563.43,234.39 L563.89,235.10 L564.35,235.58 L564.81,235.83 L565.27,235.85 L565.73,235.62 L566.20,235.12 L566.66,234.37 L567.12,233.36 L567.58,232.09 L568.04,230.57 L568.50,228.80 L568.96,226.79 L569.43,224.55 L569.89,222.07 L570.35,219.37 L570.81,216.45 L571.27,213.32 L571.73,209.99 L572.19,206.46 L572.65,202.76 L573.12,198.87 L573.58,194.83 L574.04,190.63 L574.50,186.29 L574.96,181.83 L575.42,177.24 L575.88,172.55 L576.35,167.76 L576.81,162.89 L577.27,157.96 L577.73,152.97 L578.19,147.94 L578.65,142.88 L579.11,137.81 L579.57,132.73 L580.04,127.67 L580.50,122.63 L580.96,117.63 L581.42,112.69 L581.88,107.81 L582.34,103.00 L582.80,98.29 L583.27,93.68 L583.73,89.19 L584.19,84.82 L584.65,80.60 L585.11,76.52 L585.57,72.61 L586.03,68.86 L586.49,65.30 L586.96,61.93 L587.42,58.76 L587.88,55.80 L588.34,53.05 L588.80,50.53 L589.26,48.24 L589.72,46.18 L590.19,44.36 L590.65,42.80 L591.11,41.48 L591.57,40.41 L592.03,39.61 L592.49,39.06 L592.95,38.77 L593.41,38.74 L593.88,38.96 L594.34,39.41 L594.80,40.09 L595.26,41.01 L595.72,42.15 L596.18,43.53 L596.64,45.13 L597.11,46.96 L597.57,49.00 L598.03,51.25 L598.49,53.71 L598.95,56.37 L599.41,59.22 L599.87,62.26 L600.33,65.48 L600.80,68.87 L601.26,72.43 L601.72,76.15 L602.18,80.01 L602.64,84.01 L603.10,88.13 L603.56,92.38 L604.03,96.73 L604.49,101.18 L604.95,105.72 L605.41,110.34 L605.87,115.01 L606.33,119.75 L606.79,124.52 L607.25,129.33 L607.72,134.16 L608.18,138.99 L608.64,143.82 L609.10,148.64 L609.56,153.43 L610.02,158.18 L610.48,162.88 L610.95,167.53 L611.41,172.10 L611.87,176.58 L612.33,180.98 L612.79,185.27 L613.25,189.44 L613.71,193.49 L614.17,197.41 L614.64,201.18 L615.10,204.81 L615.56,208.27 L616.02,211.56 L616.48,214.67 L616.94,217.60 L617.40,220.34 L617.87,222.88 L618.33,225.21 L618.79,227.34 L619.25,229.25 L619.71,230.94 L620.17,232.41 L620.63,233.65 L621.09,234.66 L621.56,235.43 L622.02,235.98 L622.48,236.28 L622.94,236.35 L623.40,236.17 L623.86,235.73 L624.32,235.03 L624.79,234.07 L625.25,232.86 L625.71,231.40 L626.17,229.69 L626.63,227.73 L627.09,225.54 L627.55,223.12 L628.01,220.47 L628.48,217.61 L628.94,214.53 L629.40,211.25 L629.86,207.77 L630.32,204.12 L630.78,200.28 L631.24,196.28 L631.71,192.13 L632.17,187.83 L632.63,183.40 L633.09,178.84 L633.55,174.18 L634.01,169.43 L634.47,164.58 L634.93,159.67 L635.40,154.70 L635.86,149.69 L636.32,144.64 L636.78,139.57 L637.24,134.50 L637.70,129.44 L638.16,124.39 L638.63,119.38 L639.09,114.42 L639.55,109.53 L640.01,104.70 L640.47,99.96 L640.93,95.32 L641.39,90.79 L641.85,86.39 L642.32,82.12 L642.78,77.99 L643.24,74.02 L643.70,70.22 L644.16,66.60 L644.62,63.16 L645.08,59.92 L645.55,56.89 L646.01,54.06 L646.47,51.46 L646.93,49.08 L647.39,46.94 L647.85,45.04 L648.31,43.37 L648.77,41.96 L649.24,40.80 L649.70,39.89 L650.16,39.24 L650.62,38.85 L651.08,38.72 L651.54,38.84 L652.00,39.19 L652.47,39.78 L652.93,40.60 L653.39,41.65 L653.85,42.93 L654.31,44.43 L654.77,46.15 L655.23,48.10 L655.69,50.25 L656.16,52.61 L656.62,55.18 L657.08,57.94 L657.54,60.89 L658.00,64.02 L658.46,67.33 L658.92,70.80 L659.39,74.43 L659.85,78.22 L660.31,82.14 L660.77,86.20 L661.23,90.38 L661.69,94.67 L662.15,99.06 L662.61,103.54 L663.08,108.11 L663.54,112.74 L664.00,117.44 L664.46,122.18 L664.92,126.96 L665.38,131.76 L665.84,136.58 L666.31,141.40 L666.77,146.21 L667.23,151.00 L667.69,155.76 L668.15,160.47 L668.61,165.13 L669.07,169.72 L669.53,174.24 L670.00,178.67 L670.46,183.00 L670.92,187.23 L671.38,191.34 L671.84,195.31 L672.30,199.15 L672.76,202.85 L673.23,206.39 L673.69,209.76 L674.15,212.96 L674.61,215.99 L675.07,218.83 L675.53,221.47 L675.99,223.91 L676.45,226.15 L676.92,228.18 L677.38,229.99 L677.84,231.58 L678.30,232.95" stroke="#000000"/>
<path d="M401.50,134.39 L401.96,132.83 L402.42,131.17 L402.88,129.41 L403.35,127.56 L403.81,125.63 L404.27,123.62 L404.73,121.53 L405.19,119.38 L405.65,117.17 L406.11,114.90 L406.57,112.59 L407.04,110.24 L407.50,107.86 L407.96,105.47 L408.42,103.06 L408.88,100.66 L409.34,98.26 L409.80,95.89 L410.27,93.54 L410.73,91.23 L411.19,88.98 L411.65,86.78 L412.11,84.65 L412.57,82.60 L413.03,80.63 L413.49,78.76 L413.96,77.00 L414.42,75.35 L414.88,73.82 L415.34,72.41 L415.80,71.14 L416.26,70.01 L416.72,69.02 L417.19,68.18 L417.65,67.50 L418.11,66.97 L418.57,66.60 L419.03,66.39 L419.49,66.34 L419.95,66.47 L420.41,66.79 L420.88,67.30 L421.34,67.99 L421.80,68.86 L422.26,69.92 L422.72,71.16 L423.18,72.57 L423.64,74.15 L424.11,75.90 L424.57,77.81 L425.03,79.87 L425.49,82.09 L425.95,84.46 L426.41,86.97 L426.87,89.60 L427.33,92.37 L427.80,95.25 L428.26,98.24 L428.72,101.33 L429.18,104.52 L429.64,107.80 L430.10,111.15 L430.56,114.56 L431.03,118.04 L431.49,121.57 L431.95,125.13 L432.41,128.73 L432.87,132.34 L433.33,135.97 L433.79,139.60 L434.25,143.21 L434.72,146.81 L435.18,150.39 L435.64,153.92 L436.10,157.41 L436.56,160.84 L437.02,164.20 L437.48,167.49 L437.95,170.70 L438.41,173.81 L438.87,176.83 L439.33,179.73 L439.79,182.52 L440.25,185.18 L440.71,187.71 L441.17,190.11 L441.64,192.36 L442.10,194.45 L442.56,196.40 L443.02,198.18 L443.48,199.79 L443.94,201.24 L444.40,202.51 L444.87,203.60 L445.33,204.51 L445.79,205.24 L446.25,205.79 L446.71,206.14 L447.17,206.31 L447.63,206.29 L448.09,206.09 L448.56,205.71 L449.02,205.15 L449.48,204.40 L449.94,203.48 L450.40,202.39 L450.86,201.12 L451.32,199.68 L451.79,198.07 L452.25,196.30 L452.71,194.37 L453.17,192.28 L453.63,190.05 L454.09,187.67 L454.55,185.15 L455.01,182.50 L455.48,179.72 L455.94,176.82 L456.40,173.81 L456.86,170.69 L457.32,167.47 L457.78,164.15 L458.24,160.76 L458.71,157.28 L459.17,153.74 L459.63,150.14 L460.09,146.49 L460.55,142.79 L461.01,139.05 L461.47,135.30 L461.93,131.52 L462.40,127.73 L462.86,123.95 L463.32,120.17 L463.78,116.41 L464.24,112.68 L464.70,108.98 L465.16,105.33 L465.63,101.72 L466.09,98.18 L466.55,94.71 L467.01,91.31 L467.47,88.00 L467.93,84.78 L468.39,81.66 L468.85,78.65 L469.32,75.75 L469.78,72.97 L470.24,70.32 L470.70,67.80 L471.16,65.42 L471.62,63.18 L472.08,61.10 L472.55,59.17 L473.01,57.40 L473.47,55.79 L473.93,54.35 L474.39,53.08 L474.85,51.98 L475.31,51.06 L475.77,50.32 L476.24,49.76 L476.70,49.37 L477.16,49.17 L477.62,49.15 L478.08,49.33 L478.54,49.70 L479.00,50.26 L479.47,51.02 L479.93,51.96 L480.39,53.10 L480.85,54.41 L481.31,55.91 L481.77,57.59 L482.23,59.44 L482.69,61.46 L483.16,63.65 L483.62,65.99 L484.08,68.49 L484.54,71.13 L485.00,73.91 L485.46,76.83 L485.92,79.87 L486.39,83.03 L486.85,86.30 L487.31,89.68 L487.77,93.14 L488.23,96.70 L488.69,100.33 L489.15,104.02 L489.61,107.78 L490.08,111.58 L490.54,115.43 L491.00,119.30 L491.46,123.20 L491.92,127.10 L492.38,131.01 L492.84,134.90 L493.31,138.78 L493.77,142.63 L494.23,146.45 L494.69,150.21 L495.15,153.92 L495.61,157.57 L496.07,161.13 L496.53,164.62 L497.00,168.01 L497.46,171.30 L497.92,174.49 L498.38,177.55 L498.84,180.50 L499.30,183.31 L499.76,185.98 L500.23,188.50 L500.69,190.88 L501.15,193.10 L501.61,195.15 L502.07,197.03 L502.53,198.75 L502.99,200.28 L503.45,201.64 L503.92,202.81 L504.38,203.79 L504.84,204.58 L505.30,205.18 L505.76,205.59 L506.22,205.81 L506.68,205.83 L507.15,205.66 L507.61,205.30 L508.07,204.75 L508.53,204.02 L508.99,203.10 L509.45,202.00 L509.91,200.71 L510.37,199.26 L510.84,197.62 L511.30,195.82 L511.76,193.86 L512.22,191.73 L512.68,189.45 L513.14,187.02 L513.60,184.44 L514.07,181.73 L514.53,178.88 L514.99,175.92 L515.45,172.83 L515.91,169.64 L516.37,166.34 L516.83,162.95 L517.29,159.48 L517.76,155.93 L518.22,152.31 L518.68,148.63 L519.14,144.90 L519.60,141.13 L520.06,137.32 L520.52,133.50 L520.99,129.66 L521.45,125.81 L521.91,121.97 L522.37,118.14 L522.83,114.34 L523.29,110.57 L523.75,106.84 L524.21,103.16 L524.68,99.54 L525.14,95.99 L525.60,92.51 L526.06,89.12 L526.52,85.83 L526.98,82.63 L527.44,79.55 L527.91,76.58 L528.37,73.74 L528.83,71.03 L529.29,68.45 L529.75,66.02 L530.21,63.74 L530.67,61.61 L531.13,59.64 L531.60,57.84 L532.06,56.21 L532.52,54.75 L532.98,53.47 L533.44,52.37 L533.90,51.45 L534.36,50.72 L534.83,50.17 L535.29,49.81 L535.75,49.64 L536.21,49.66 L536.67,49.88 L537.13,50.30 L537.59,50.92 L538.05,51.74 L538.52,52.75 L538.98,53.95 L539.44,55.34 L539.90,56.92 L540.36,58.68 L540.82,60.62 L541.28,62.73 L541.75,65.01 L542.21,67.45 L542.67,70.04 L543.13,72.78 L543.59,75.66 L544.05,78.68 L544.51,81.82 L544.97,85.08 L545.44,88.45 L545.90,91.92 L546.36,95.48 L546.82,99.13 L547.28,102.84 L547.74,106.63 L548.20,110.46 L548.67,114.34 L549.13,118.26 L549.59,122.20 L550.05,126.15 L550.51,130.11 L550.97,134.06 L551.43,137.99 L551.89,141.90 L552.36,145.77 L552.82,149.60 L553.28,153.37 L553.74,157.07 L554.20,160.70 L554.66,164.25 L555.12,167.70 L555.59,171.05 L556.05,174.28 L556.51,177.40 L556.97,180.39 L557.43,183.24 L557.89,185.96 L558.35,188.52 L558.81,190.93 L559.28,193.17 L559.74,195.25 L560.20,197.15 L560.66,198.87 L561.12,200.42 L561.58,201.77 L562.04,202.94 L562.51,203.91 L562.97,204.69 L563.43,205.27 L563.89,205.65 L564.35,205.83 L564.81,205.81 L565.27,205.60 L565.73,205.21 L566.20,204.63 L566.66,203.86 L567.12,202.91 L567.58,201.78 L568.04,200.47 L568.50,198.99 L568.96,197.33 L569.43,195.51 L569.89,193.52 L570.35,191.37 L570.81,189.07 L571.27,186.63 L571.73,184.04 L572.19,181.31 L572.65,178.46 L573.12,175.49 L573.58,172.40 L574.04,169.20 L574.50,165.90 L574.96,162.51 L575.42,159.04 L575.88,155.49 L576.35,151.87 L576.81,148.20 L577.27,144.47 L577.73,140.71 L578.19,136.91 L578.65,133.10 L579.11,129.27 L579.57,125.43 L580.04,121.60 L580.50,117.79 L580.96,114.00 L581.42,110.25 L581.88,106.53 L582.34,102.87 L582.80,99.26 L583.27,95.73 L583.73,92.27 L584.19,88.90 L584.65,85.62 L585.11,82.44 L585.57,79.38 L586.03,76.42 L586.49,73.60 L586.96,70.90 L587.42,68.34 L587.88,65.92 L588.34,63.65 L588.80,61.54 L589.26,59.58 L589.72,57.79 L590.19,56.17 L590.65,54.72 L591.11,53.45 L591.57,52.35 L592.03,51.44 L592.49,50.71 L592.95,50.17 L593.41,49.81 L593.88,49.64 L594.34,49.66 L594.80,49.89 L595.26,50.32 L595.72,50.95 L596.18,51.78 L596.64,52.82 L597.11,54.05 L597.57,55.47 L598.03,57.09 L598.49,58.89 L598.95,60.87 L599.41,63.03 L599.87,65.35 L600.33,67.84 L600.80,70.49 L601.26,73.28 L601.72,76.22 L602.18,79.30 L602.64,82.50 L603.10,85.82 L603.56,89.25 L604.03,92.78 L604.49,96.40 L604.95,100.11 L605.41,103.89 L605.87,107.72 L606.33,111.61 L606.79,115.55 L607.25,119.51 L607.72,123.50 L608.18,127.49 L608.64,131.49 L609.10,135.47 L609.56,139.44 L610.02,143.37 L610.48,147.26 L610.95,151.10 L611.41,154.87 L611.87,158.58 L612.33,162.20 L612.79,165.73 L613.25,169.16 L613.71,172.48 L614.17,175.68 L614.64,178.76 L615.10,181.70 L615.56,184.49 L616.02,187.14 L616.48,189.63 L616.94,191.96 L617.40,194.11 L617.87,196.09 L618.33,197.89 L618.79,199.51 L619.25,200.93 L619.71,202.16 L620.17,203.20 L620.63,204.03 L621.09,204.67 L621.56,205.10 L622.02,205.32 L622.48,205.34 L622.94,205.18 L623.40,204.83 L623.86,204.29 L624.32,203.57 L624.79,202.67 L625.25,201.59 L625.71,200.34 L626.17,198.91 L626.63,197.31 L627.09,195.55 L627.55,193.62 L628.01,191.54 L628.48,189.31 L628.94,186.92 L629.40,184.40 L629.86,181.74 L630.32,178.95 L630.78,176.04 L631.24,173.01 L631.71,169.88 L632.17,166.64 L632.63,163.31 L633.09,159.90 L633.55,156.41 L634.01,152.85 L634.47,149.23 L634.93,145.56 L635.40,141.84 L635.86,138.09 L636.32,134.32 L636.78,130.53 L637.24,126.73 L637.70,122.94 L638.16,119.15 L638.63,115.38 L639.09,111.65 L639.55,107.95 L640.01,104.30 L640.47,100.70 L640.93,97.17 L641.39,93.71 L641.85,90.32 L642.32,87.03 L642.78,83.84 L643.24,80.74 L643.70,77.76 L644.16,74.90 L644.62,72.16 L645.08,69.56 L645.55,67.09 L646.01,64.76 L646.47,62.59 L646.93,60.57 L647.39,58.71 L647.85,57.01 L648.31,55.48 L648.77,54.12 L649.24,52.94 L649.70,51.93 L650.16,51.10 L650.62,50.46 L651.08,49.99 L651.54,49.72 L652.00,49.62 L652.47,49.73 L652.93,50.04 L653.39,50.55 L653.85,51.27 L654.31,52.20 L654.77,53.32 L655.23,54.64 L655.69,56.15 L656.16,57.85 L656.62,59.74 L657.08,61.81 L657.54,64.05 L658.00,66.46 L658.46,69.03 L658.92,71.76 L659.39,74.64 L659.85,77.65 L660.31,80.80 L660.77,84.08 L661.23,87.46 L661.69,90.96 L662.15,94.55 L662.61,98.23 L663.08,101.99 L663.54,105.82 L664.00,109.70 L664.46,113.63 L664.92,117.60 L665.38,121.59 L665.84,125.60 L666.31,129.62 L666.77,133.63 L667.23,137.63 L667.69,141.59 L668.15,145.52 L668.61,149.41 L669.07,153.23 L669.53,156.99 L670.00,160.67 L670.46,164.26 L670.92,167.76 L671.38,171.15 L671.84,174.42 L672.30,177.57 L672.76,180.59 L673.23,183.46 L673.69,186.19 L674.15,188.76 L674.61,191.17 L675.07,193.42 L675.53,195.48 L675.99,197.37 L676.45,199.07 L676.92,200.59 L677.38,201.91 L677.84,203.03 L678.30,203.95" stroke="#00ff00"/>
<path d="M401.50,134.88 L401.96,134.82 L402.42,134.63 L402.88,134.32 L403.35,133.89 L403.81,133.34 L404.27,132.67 L404.73,131.90 L405.19,131.02 L405.65,130.03 L406.11,128.95 L406.57,127.79 L407.04,126.54 L407.50,125.22 L407.96,123.84 L408.42,122.39 L408.88,120.90 L409.34,119.38 L409.80,117.82 L410.27,116.24 L410.73,114.65 L411.19,113.07 L411.65,111.49 L412.11,109.93 L412.57,108.40 L413.03,106.92 L413.49,105.47 L413.96,104.09 L414.42,102.77 L414.88,101.52 L415.34,100.35 L415.80,99.28 L416.26,98.29 L416.72,97.41 L417.19,96.63 L417.65,95.97 L418.11,95.42 L418.57,94.99 L419.03,94.68 L419.49,94.49 L419.95,94.43 L420.41,94.50 L420.88,94.71 L421.34,95.06 L421.80,95.55 L422.26,96.18 L422.72,96.94 L423.18,97.84 L423.64,98.87 L424.11,100.03 L424.57,101.31 L425.03,102.72 L425.49,104.24 L425.95,105.88 L426.41,107.63 L426.87,109.48 L427.33,111.43 L427.80,113.48 L428.26,115.62 L428.72,117.83 L429.18,120.13 L429.64,122.50 L430.10,124.93 L430.56,127.42 L431.03,129.96 L431.49,132.54 L431.95,135.16 L432.41,137.81 L432.87,140.48 L433.33,143.17 L433.79,145.87 L434.25,148.57 L434.72,151.26 L435.18,153.94 L435.64,156.59 L436.10,159.22 L436.56,161.81 L437.02,164.36 L437.48,166.86 L437.95,169.30 L438.41,171.68 L438.87,173.99 L439.33,176.23 L439.79,178.38 L440.25,180.45 L440.71,182.42 L441.17,184.29 L441.64,186.06 L442.10,187.72 L442.56,189.27 L443.02,190.70 L443.48,192.00 L443.94,193.19 L444.40,194.24 L444.87,195.17 L445.33,195.96 L445.79,196.61 L446.25,197.13 L446.71,197.51 L447.17,197.75 L447.63,197.85 L448.09,197.80 L448.56,197.59 L449.02,197.23 L449.48,196.71 L449.94,196.04 L450.40,195.21 L450.86,194.24 L451.32,193.11 L451.79,191.84 L452.25,190.42 L452.71,188.87 L453.17,187.18 L453.63,185.36 L454.09,183.42 L454.55,181.35 L455.01,179.17 L455.48,176.88 L455.94,174.48 L456.40,171.99 L456.86,169.40 L457.32,166.73 L457.78,163.98 L458.24,161.16 L458.71,158.27 L459.17,155.33 L459.63,152.34 L460.09,149.30 L460.55,146.23 L461.01,143.14 L461.47,140.03 L461.93,136.91 L462.40,133.78 L462.86,130.66 L463.32,127.56 L463.78,124.47 L464.24,121.42 L464.70,118.40 L465.16,115.42 L465.63,112.50 L466.09,109.64 L466.55,106.85 L467.01,104.13 L467.47,101.49 L467.93,98.94 L468.39,96.48 L468.85,94.13 L469.32,91.88 L469.78,89.74 L470.24,87.73 L470.70,85.83 L471.16,84.06 L471.62,82.43 L472.08,80.93 L472.55,79.57 L473.01,78.36 L473.47,77.29 L473.93,76.37 L474.39,75.61 L474.85,75.00 L475.31,74.54 L475.77,74.24 L476.24,74.10 L476.70,74.11 L477.16,74.28 L477.62,74.59 L478.08,75.04 L478.54,75.65 L479.00,76.40 L479.47,77.29 L479.93,78.32 L480.39,79.49 L480.85,80.79 L481.31,82.23 L481.77,83.80 L482.23,85.49 L482.69,87.31 L483.16,89.24 L483.62,91.28 L484.08,93.44 L484.54,95.69 L485.00,98.05 L485.46,100.49 L485.92,103.03 L486.39,105.64 L486.85,108.33 L487.31,111.09 L487.77,113.91 L488.23,116.79 L488.69,119.71 L489.15,122.68 L489.61,125.68 L490.08,128.71 L490.54,131.76 L491.00,134.83 L491.46,137.91 L491.92,140.98 L492.38,144.05 L492.84,147.10 L493.31,150.13 L493.77,153.13 L494.23,156.10 L494.69,159.03 L495.15,161.90 L495.61,164.72 L496.07,167.48 L496.53,170.17 L497.00,172.78 L497.46,175.32 L497.92,177.77 L498.38,180.12 L498.84,182.38 L499.30,184.53 L499.76,186.57 L500.23,188.51 L500.69,190.32 L501.15,192.01 L501.61,193.58 L502.07,195.02 L502.53,196.32 L502.99,197.49 L503.45,198.53 L503.92,199.42 L504.38,200.16 L504.84,200.77 L505.30,201.23 L505.76,201.54 L506.22,201.70 L506.68,201.71 L507.15,201.56 L507.61,201.23 L508.07,200.73 L508.53,200.07 L508.99,199.23 L509.45,198.23 L509.91,197.07 L510.37,195.75 L510.84,194.27 L511.30,192.64 L511.76,190.86 L512.22,188.94 L512.68,186.88 L513.14,184.69 L513.60,182.37 L514.07,179.93 L514.53,177.38 L514.99,174.72 L515.45,171.97 L515.91,169.12 L516.37,166.18 L516.83,163.17 L517.29,160.09 L517.76,156.95 L518.22,153.76 L518.68,150.53 L519.14,147.26 L519.60,143.96 L520.06,140.65 L520.52,137.33 L520.99,134.01 L521.45,130.70 L521.91,127.41 L522.37,124.15 L522.83,120.92 L523.29,117.74 L523.75,114.61 L524.21,111.55 L524.68,108.55 L525.14,105.63 L525.60,102.80 L526.06,100.06 L526.52,97.43 L526.98,94.90 L527.44,92.48 L527.91,90.19 L528.37,88.02 L528.83,85.99 L529.29,84.10 L529.75,82.35 L530.21,80.75 L530.67,79.30 L531.13,78.01 L531.60,76.88 L532.06,75.92 L532.52,75.11 L532.98,74.48 L533.44,74.02 L533.90,73.73 L534.36,73.60 L534.83,73.65 L535.29,73.84 L535.75,74.18 L536.21,74.67 L536.67,75.31 L537.13,76.09 L537.59,77.01 L538.05,78.07 L538.52,79.27 L538.98,80.61 L539.44,82.08 L539.90,83.68 L540.36,85.40 L540.82,87.25 L541.28,89.21 L541.75,91.29 L542.21,93.47 L542.67,95.75 L543.13,98.14 L543.59,100.61 L544.05,103.17 L544.51,105.81 L544.97,108.52 L545.44,111.31 L545.90,114.15 L546.36,117.05 L546.82,119.99 L547.28,122.98 L547.74,126.00 L548.20,129.05 L548.67,132.11 L549.13,135.19 L549.59,138.28 L550.05,141.37 L550.51,144.44 L550.97,147.50 L551.43,150.54 L551.89,153.55 L552.36,156.52 L552.82,159.44 L553.28,162.32 L553.74,165.14 L554.20,167.90 L554.66,170.58 L555.12,173.19 L555.59,175.72 L556.05,178.15 L556.51,180.50 L556.97,182.74 L557.43,184.88 L557.89,186.91 L558.35,188.83 L558.81,190.63 L559.28,192.30 L559.74,193.85 L560.20,195.27 L560.66,196.55 L561.12,197.70 L561.58,198.70 L562.04,199.57 L562.51,200.29 L562.97,200.87 L563.43,201.30 L563.89,201.58 L564.35,201.71 L564.81,201.69 L565.27,201.50 L565.73,201.14 L566.20,200.61 L566.66,199.91 L567.12,199.04 L567.58,198.01 L568.04,196.82 L568.50,195.46 L568.96,193.95 L569.43,192.29 L569.89,190.49 L570.35,188.54 L570.81,186.45 L571.27,184.23 L571.73,181.89 L572.19,179.43 L572.65,176.86 L573.12,174.18 L573.58,171.40 L574.04,168.54 L574.50,165.59 L574.96,162.56 L575.42,159.47 L575.88,156.32 L576.35,153.12 L576.81,149.88 L577.27,146.60 L577.73,143.30 L578.19,139.99 L578.65,136.67 L579.11,133.35 L579.57,130.04 L580.04,126.76 L580.50,123.50 L580.96,120.28 L581.42,117.11 L581.88,113.99 L582.34,110.94 L582.80,107.96 L583.27,105.06 L583.73,102.25 L584.19,99.53 L584.65,96.91 L585.11,94.40 L585.57,92.01 L586.03,89.75 L586.49,87.61 L586.96,85.60 L587.42,83.74 L587.88,82.02 L588.34,80.45 L588.80,79.03 L589.26,77.77 L589.72,76.68 L590.19,75.74 L590.65,74.97 L591.11,74.37 L591.57,73.95 L592.03,73.69 L592.49,73.60 L592.95,73.68 L593.41,73.90 L593.88,74.28 L594.34,74.81 L594.80,75.49 L595.26,76.31 L595.72,77.28 L596.18,78.39 L596.64,79.64 L597.11,81.03 L597.57,82.55 L598.03,84.20 L598.49,85.98 L598.95,87.88 L599.41,89.90 L599.87,92.04 L600.33,94.28 L600.80,96.62 L601.26,99.06 L601.72,101.59 L602.18,104.20 L602.64,106.90 L603.10,109.67 L603.56,112.50 L604.03,115.40 L604.49,118.34 L604.95,121.33 L605.41,124.36 L605.87,127.43 L606.33,130.51 L606.79,133.62 L607.25,136.73 L607.72,139.84 L608.18,142.95 L608.64,146.05 L609.10,149.13 L609.56,152.18 L610.02,155.19 L610.48,158.17 L610.95,161.10 L611.41,163.97 L611.87,166.77 L612.33,169.51 L612.79,172.18 L613.25,174.76 L613.71,177.26 L614.17,179.66 L614.64,181.96 L615.10,184.16 L615.56,186.24 L616.02,188.22 L616.48,190.07 L616.94,191.80 L617.40,193.40 L617.87,194.87 L618.33,196.20 L618.79,197.40 L619.25,198.45 L619.71,199.36 L620.17,200.13 L620.63,200.75 L621.09,201.21 L621.56,201.53 L622.02,201.70 L622.48,201.71 L622.94,201.56 L623.40,201.24 L623.86,200.75 L624.32,200.09 L624.79,199.26 L625.25,198.28 L625.71,197.13 L626.17,195.82 L626.63,194.36 L627.09,192.75 L627.55,191.00 L628.01,189.10 L628.48,187.07 L628.94,184.90 L629.40,182.61 L629.86,180.20 L630.32,177.68 L630.78,175.05 L631.24,172.32 L631.71,169.50 L632.17,166.60 L632.63,163.62 L633.09,160.57 L633.55,157.46 L634.01,154.30 L634.47,151.09 L634.93,147.85 L635.40,144.58 L635.86,141.29 L636.32,137.99 L636.78,134.70 L637.24,131.40 L637.70,128.13 L638.16,124.88 L638.63,121.67 L639.09,118.50 L639.55,115.37 L640.01,112.31 L640.47,109.32 L640.93,106.40 L641.39,103.56 L641.85,100.81 L642.32,98.17 L642.78,95.62 L643.24,93.19 L643.70,90.87 L644.16,88.68 L644.62,86.62 L645.08,84.70 L645.55,82.91 L646.01,81.27 L646.47,79.78 L646.93,78.45 L647.39,77.27 L647.85,76.25 L648.31,75.39 L648.77,74.70 L649.24,74.17 L649.70,73.82 L650.16,73.63 L650.62,73.61 L651.08,73.75 L651.54,74.04 L652.00,74.48 L652.47,75.06 L652.93,75.80 L653.39,76.68 L653.85,77.71 L654.31,78.87 L654.77,80.18 L655.23,81.62 L655.69,83.20 L656.16,84.90 L656.62,86.73 L657.08,88.68 L657.54,90.74 L658.00,92.92 L658.46,95.20 L658.92,97.58 L659.39,100.06 L659.85,102.62 L660.31,105.27 L660.77,108.00 L661.23,110.79 L661.69,113.65 L662.15,116.57 L662.61,119.53 L663.08,122.54 L663.54,125.59 L664.00,128.66 L664.46,131.75 L664.92,134.86 L665.38,137.97 L665.84,141.09 L666.31,144.19 L666.77,147.28 L667.23,150.35 L667.69,153.39 L668.15,156.39 L668.61,159.35 L669.07,162.25 L669.53,165.10 L670.00,167.88 L670.46,170.59 L670.92,173.22 L671.38,175.77 L671.84,178.23 L672.30,180.59 L672.76,182.85 L673.23,185.01 L673.69,187.05 L674.15,188.97 L674.61,190.78 L675.07,192.46 L675.53,194.00 L675.99,195.42 L676.45,196.70 L676.92,197.84 L677.38,198.84 L677.84,199.69 L678.30,200.39" stroke="#0000ff"/>
</g>
<path d="M401.50,258.00v-3.5 M401.50,15.90v3.5 M447.63,258.00v-3.5 M447.63,15.90v3.5 M493.77,258.00v-3.5 M493.77,15.90v3.5 M539.90,258.00v-3.5 M539.90,15.90v3.5 M586.03,258.00v-3.5 M586.03,15.90v3.5 M632.17,258.00v-3.5 M632.17,15.90v3.5 M678.30,258.00v-3.5 M678.30,15.90v3.5 M401.50,16.20h3.5 M678.30,16.20h-3.5 M401.50,40.42h3.5 M678.30,40.42h-3.5 M401.50,64.64h3.5 M678.30,64.64h-3.5 M401.50,88.86h3.5 M678.30,88.86h-3.5 M401.50,113.08h3.5 M678.30,113.08h-3.5 M401.50,137.30h3.5 M678.30,137.30h-3.5 M401.50,161.52h3.5 M678.30,161.52h-3.5 M401.50,185.74h3.5 M678.30,185.74h-3.5 M401.50,209.96h3.5 M678.30,209.96h-3.5 M401.50,234.18h3.5 M678.30,234.18h-3.5 M401.50,258.40h3.5 M678.30,258.40h-3.5" stroke="#555555" stroke-width="0.9" fill="none"/>
<rect x="401.50" y="15.90" width="276.80" height="242.10" fill="none" stroke="#555555" stroke-width="1.0"/>
<text x="401.50" y="272.80" text-anchor="middle" class="tk">0</text>
<text x="447.63" y="272.80" text-anchor="middle" class="tk">5</text>
<text x="493.77" y="272.80" text-anchor="middle" class="tk">10</text>
<text x="539.90" y="272.80" text-anchor="middle" class="tk">15</text>
<text x="586.03" y="272.80" text-anchor="middle" class="tk">20</text>
<text x="632.17" y="272.80" text-anchor="middle" class="tk">25</text>
<text x="678.30" y="272.80" text-anchor="middle" class="tk">30</text>
<text x="397.80" y="20.40" text-anchor="end" class="tk">5</text>
<text x="397.80" y="44.62" text-anchor="end" class="tk">4</text>
<text x="397.80" y="68.84" text-anchor="end" class="tk">3</text>
<text x="397.80" y="93.06" text-anchor="end" class="tk">2</text>
<text x="397.80" y="117.28" text-anchor="end" class="tk">1</text>
<text x="397.80" y="141.50" text-anchor="end" class="tk">0</text>
<text x="397.80" y="165.72" text-anchor="end" class="tk">-1</text>
<text x="397.80" y="189.94" text-anchor="end" class="tk">-2</text>
<text x="397.80" y="214.16" text-anchor="end" class="tk">-3</text>
<text x="397.80" y="238.38" text-anchor="end" class="tk">-4</text>
<text x="397.80" y="262.60" text-anchor="end" class="tk">-5</text>
<text x="539.90" y="287.7" text-anchor="middle" class="lb">Dimensionless time</text>
<text transform="translate(384.10,136.25) rotate(-90)" text-anchor="middle" class="lb">Displacement in y direction (m)</text>
<path d="M403.30,8.3L408.00,13.3M408.00,8.3L403.30,13.3" stroke="#6a6a6a" stroke-width="0.75" fill="none"/>
<text x="409.50" y="13.5" class="ex">10</text>
<text x="420.80" y="7.8" class="sup">-6</text>
<text x="362.10" y="21.60" class="pl">(b)</text>
<rect x="588.30" y="18.30" width="88.60" height="61.50" fill="#fff" stroke="#555555" stroke-width="1"/>
<path d="M590.90,26.85h23.80" stroke="#ff0000" stroke-width="1.0" stroke-opacity="0.6"/>
<text x="616.60" y="31.55" class="lg">Without AL</text>
<path d="M590.90,41.75h23.80" stroke="#000000" stroke-width="1.0" stroke-opacity="0.6"/>
<text x="616.60" y="46.45" class="lg">30kHz</text>
<path d="M590.90,56.65h23.80" stroke="#00ff00" stroke-width="1.0" stroke-opacity="0.6"/>
<text x="616.60" y="61.35" class="lg">20kHz</text>
<path d="M590.90,71.55h23.80" stroke="#0000ff" stroke-width="1.0" stroke-opacity="0.6"/>
<text x="616.60" y="76.25" class="lg">10kHz</text>
</svg>
</body></html>
